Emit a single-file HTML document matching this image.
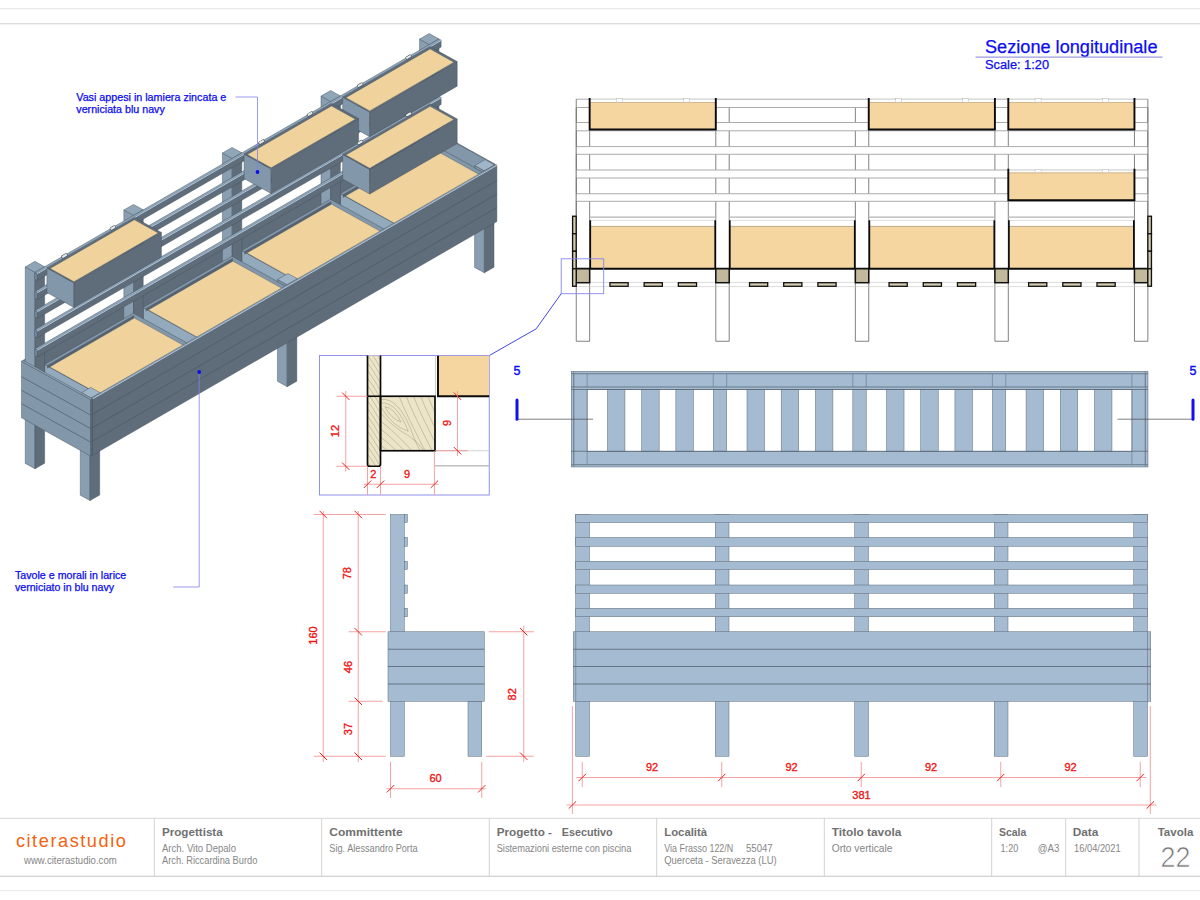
<!DOCTYPE html>
<html><head><meta charset="utf-8"><title>Orto verticale</title>
<style>
html,body{margin:0;padding:0;background:#fff;}
body{width:1200px;height:900px;overflow:hidden;}
svg{display:block;font-family:"Liberation Sans",sans-serif;}
</style></head><body>
<svg width="1200" height="900" viewBox="0 0 1200 900">
<rect x="0" y="0" width="1200" height="900" fill="#fff"/>
<line x1="0.00" y1="8.75" x2="1200.00" y2="8.75" stroke="#dcdcdc" stroke-width="0.8" />
<line x1="0.00" y1="23.75" x2="1200.00" y2="23.75" stroke="#c8c8c8" stroke-width="0.9" />
<g id="iso">
<polygon points="25.26,417.96 23.10,416.76 23.10,360.27 25.26,361.47" fill="#8297a9" stroke="#46525e" stroke-width="0.45" stroke-linejoin="round"/>
<polygon points="25.26,417.96 429.75,184.29 429.75,127.80 25.26,361.47" fill="#5f6d7b" stroke="#46525e" stroke-width="0.45" stroke-linejoin="round"/>
<polygon points="25.26,361.47 429.75,127.80 427.59,126.60 23.10,360.27" fill="#8fa5b8" stroke="#46525e" stroke-width="0.45" stroke-linejoin="round"/>
<polygon points="494.20,220.69 429.22,184.60 429.22,128.11 494.20,164.21" fill="#8297a9" stroke="#46525e" stroke-width="0.45" stroke-linejoin="round"/>
<polygon points="494.20,220.69 494.73,220.38 494.73,163.90 494.20,164.21" fill="#5f6d7b" stroke="#46525e" stroke-width="0.45" stroke-linejoin="round"/>
<polygon points="494.20,164.21 494.73,163.90 429.75,127.80 429.22,128.11" fill="#8fa5b8" stroke="#46525e" stroke-width="0.45" stroke-linejoin="round"/>
<polygon points="429.32,241.02 419.57,235.60 419.57,39.12 429.32,44.54" fill="#899eb0" stroke="#46525e" stroke-width="0.45" stroke-linejoin="round"/>
<polygon points="429.32,241.02 438.96,235.45 438.96,38.97 429.32,44.54" fill="#5f6d7b" stroke="#46525e" stroke-width="0.45" stroke-linejoin="round"/>
<polygon points="429.32,44.54 438.96,38.97 429.22,33.55 419.57,39.12" fill="#8fa5b8" stroke="#46525e" stroke-width="0.45" stroke-linejoin="round"/>
<polygon points="484.35,272.80 474.60,267.39 474.60,167.92 484.35,173.33" fill="#899eb0" stroke="#46525e" stroke-width="0.45" stroke-linejoin="round"/>
<polygon points="484.35,272.80 493.99,267.23 493.99,167.76 484.35,173.33" fill="#5f6d7b" stroke="#46525e" stroke-width="0.45" stroke-linejoin="round"/>
<polygon points="484.35,173.33 493.99,167.76 484.24,162.35 474.60,167.92" fill="#8fa5b8" stroke="#46525e" stroke-width="0.45" stroke-linejoin="round"/>
<polygon points="396.49,264.61 340.39,233.45 340.39,193.54 396.49,224.70" fill="#93a9bc" stroke="#46525e" stroke-width="0.45" stroke-linejoin="round"/>
<polygon points="396.49,264.61 485.21,213.36 485.21,173.45 396.49,224.70" fill="#5f6d7b" stroke="#46525e" stroke-width="0.45" stroke-linejoin="round"/>
<polygon points="396.49,224.70 485.21,173.45 429.11,142.29 340.39,193.54" fill="#8196a8" stroke="#46525e" stroke-width="0.45" stroke-linejoin="round"/>
<polygon points="342.87,197.63 430.09,147.24 430.09,144.17 342.87,194.56" fill="#55626f" stroke="none"/>
<polygon points="483.49,176.90 430.09,147.24 430.09,144.17 483.49,173.83" fill="#8297a9" stroke="none"/>
<polygon points="396.24,224.24 480.78,175.40 430.09,147.24 345.55,196.08" fill="#f0d29c" stroke="#46525e" stroke-width="0.35"/>
<polygon points="484.35,173.33 474.82,168.04 474.82,165.56 484.35,170.85" fill="#8297a9" stroke="#46525e" stroke-width="0.45" stroke-linejoin="round"/>
<polygon points="484.35,173.33 494.63,167.39 494.63,164.91 484.35,170.85" fill="#5f6d7b" stroke="#46525e" stroke-width="0.45" stroke-linejoin="round"/>
<polygon points="484.35,170.85 494.63,164.91 485.10,159.62 474.82,165.56" fill="#a0b5c8" stroke="#46525e" stroke-width="0.45" stroke-linejoin="round"/>
<polygon points="330.74,297.97 321.00,292.55 321.00,96.07 330.74,101.49" fill="#899eb0" stroke="#46525e" stroke-width="0.45" stroke-linejoin="round"/>
<polygon points="330.74,297.97 340.39,292.40 340.39,95.92 330.74,101.49" fill="#5f6d7b" stroke="#46525e" stroke-width="0.45" stroke-linejoin="round"/>
<polygon points="330.74,101.49 340.39,95.92 330.64,90.50 321.00,96.07" fill="#8fa5b8" stroke="#46525e" stroke-width="0.45" stroke-linejoin="round"/>
<polygon points="297.91,321.56 241.81,290.40 241.81,250.49 297.91,281.65" fill="#93a9bc" stroke="#46525e" stroke-width="0.45" stroke-linejoin="round"/>
<polygon points="297.91,321.56 386.63,270.31 386.63,230.40 297.91,281.65" fill="#5f6d7b" stroke="#46525e" stroke-width="0.45" stroke-linejoin="round"/>
<polygon points="297.91,281.65 386.63,230.40 330.53,199.24 241.81,250.49" fill="#8196a8" stroke="#46525e" stroke-width="0.45" stroke-linejoin="round"/>
<polygon points="244.30,254.58 331.52,204.19 331.52,201.12 244.30,251.51" fill="#55626f" stroke="none"/>
<polygon points="384.91,233.85 331.52,204.19 331.52,201.12 384.91,230.78" fill="#8297a9" stroke="none"/>
<polygon points="297.66,281.18 382.20,232.35 331.52,204.19 246.97,253.03" fill="#f0d29c" stroke="#46525e" stroke-width="0.35"/>
<polygon points="232.16,354.91 222.42,349.50 222.42,153.02 232.16,158.43" fill="#899eb0" stroke="#46525e" stroke-width="0.45" stroke-linejoin="round"/>
<polygon points="232.16,354.91 241.81,349.34 241.81,152.86 232.16,158.43" fill="#5f6d7b" stroke="#46525e" stroke-width="0.45" stroke-linejoin="round"/>
<polygon points="232.16,158.43 241.81,152.86 232.06,147.45 222.42,153.02" fill="#8fa5b8" stroke="#46525e" stroke-width="0.45" stroke-linejoin="round"/>
<polygon points="287.19,386.70 277.45,381.28 277.45,281.81 287.19,287.23" fill="#899eb0" stroke="#46525e" stroke-width="0.45" stroke-linejoin="round"/>
<polygon points="287.19,386.70 296.84,381.13 296.84,281.66 287.19,287.23" fill="#5f6d7b" stroke="#46525e" stroke-width="0.45" stroke-linejoin="round"/>
<polygon points="287.19,287.23 296.84,281.66 287.09,276.24 277.45,281.81" fill="#8fa5b8" stroke="#46525e" stroke-width="0.45" stroke-linejoin="round"/>
<polygon points="199.33,378.51 143.23,347.35 143.23,307.44 199.33,338.60" fill="#93a9bc" stroke="#46525e" stroke-width="0.45" stroke-linejoin="round"/>
<polygon points="199.33,378.51 288.05,327.26 288.05,287.35 199.33,338.60" fill="#5f6d7b" stroke="#46525e" stroke-width="0.45" stroke-linejoin="round"/>
<polygon points="199.33,338.60 288.05,287.35 231.95,256.18 143.23,307.44" fill="#8196a8" stroke="#46525e" stroke-width="0.45" stroke-linejoin="round"/>
<polygon points="145.72,311.53 232.94,261.14 232.94,258.07 145.72,308.46" fill="#55626f" stroke="none"/>
<polygon points="286.33,290.80 232.94,261.14 232.94,258.07 286.33,287.73" fill="#8297a9" stroke="none"/>
<polygon points="199.08,338.13 283.62,289.29 232.94,261.14 148.40,309.98" fill="#f0d29c" stroke="#46525e" stroke-width="0.35"/>
<polygon points="287.19,287.23 277.66,281.93 277.66,279.45 287.19,284.75" fill="#8297a9" stroke="#46525e" stroke-width="0.45" stroke-linejoin="round"/>
<polygon points="287.19,287.23 297.48,281.29 297.48,278.81 287.19,284.75" fill="#5f6d7b" stroke="#46525e" stroke-width="0.45" stroke-linejoin="round"/>
<polygon points="287.19,284.75 297.48,278.81 287.95,273.51 277.66,279.45" fill="#a0b5c8" stroke="#46525e" stroke-width="0.45" stroke-linejoin="round"/>
<polygon points="133.59,411.86 123.84,406.45 123.84,209.97 133.59,215.38" fill="#899eb0" stroke="#46525e" stroke-width="0.45" stroke-linejoin="round"/>
<polygon points="133.59,411.86 143.23,406.29 143.23,209.81 133.59,215.38" fill="#5f6d7b" stroke="#46525e" stroke-width="0.45" stroke-linejoin="round"/>
<polygon points="133.59,215.38 143.23,209.81 133.48,204.40 123.84,209.97" fill="#8fa5b8" stroke="#46525e" stroke-width="0.45" stroke-linejoin="round"/>
<polygon points="100.75,435.46 44.65,404.30 44.65,364.39 100.75,395.55" fill="#93a9bc" stroke="#46525e" stroke-width="0.45" stroke-linejoin="round"/>
<polygon points="100.75,435.46 189.47,384.21 189.47,344.30 100.75,395.55" fill="#5f6d7b" stroke="#46525e" stroke-width="0.45" stroke-linejoin="round"/>
<polygon points="100.75,395.55 189.47,344.30 133.37,313.13 44.65,364.39" fill="#8196a8" stroke="#46525e" stroke-width="0.45" stroke-linejoin="round"/>
<polygon points="47.14,368.47 134.36,318.09 134.36,315.02 47.14,365.40" fill="#55626f" stroke="none"/>
<polygon points="187.75,347.75 134.36,318.09 134.36,315.02 187.75,344.68" fill="#8297a9" stroke="none"/>
<polygon points="100.50,395.08 185.04,346.24 134.36,318.09 49.82,366.93" fill="#f0d29c" stroke="#46525e" stroke-width="0.35"/>
<polygon points="35.01,468.81 25.26,463.40 25.26,266.92 35.01,272.33" fill="#899eb0" stroke="#46525e" stroke-width="0.45" stroke-linejoin="round"/>
<polygon points="35.01,468.81 44.65,463.24 44.65,266.76 35.01,272.33" fill="#5f6d7b" stroke="#46525e" stroke-width="0.45" stroke-linejoin="round"/>
<polygon points="35.01,272.33 44.65,266.76 34.90,261.35 25.26,266.92" fill="#8fa5b8" stroke="#46525e" stroke-width="0.45" stroke-linejoin="round"/>
<polygon points="37.17,356.92 35.01,355.71 35.01,348.84 37.17,350.04" fill="#8297a9" stroke="#46525e" stroke-width="0.45" stroke-linejoin="round"/>
<polygon points="37.17,356.92 441.13,123.55 441.13,116.68 37.17,350.04" fill="#5f6d7b" stroke="#46525e" stroke-width="0.45" stroke-linejoin="round"/>
<polygon points="37.17,350.04 441.13,116.68 438.96,115.47 35.01,348.84" fill="#8fa5b8" stroke="#46525e" stroke-width="0.45" stroke-linejoin="round"/>
<line x1="37.17" y1="350.34" x2="441.13" y2="116.98" stroke="#b9d0e6" stroke-width="0.95"/>
<polygon points="37.17,337.76 35.01,336.56 35.01,329.68 37.17,330.88" fill="#8297a9" stroke="#46525e" stroke-width="0.45" stroke-linejoin="round"/>
<polygon points="37.17,337.76 441.13,104.40 441.13,97.52 37.17,330.88" fill="#5f6d7b" stroke="#46525e" stroke-width="0.45" stroke-linejoin="round"/>
<polygon points="37.17,330.88 441.13,97.52 438.96,96.32 35.01,329.68" fill="#8fa5b8" stroke="#46525e" stroke-width="0.45" stroke-linejoin="round"/>
<line x1="37.17" y1="331.18" x2="441.13" y2="97.82" stroke="#b9d0e6" stroke-width="0.95"/>
<polygon points="369.73,194.00 342.66,178.96 342.66,154.40 369.73,169.44" fill="#8297a9" stroke="#46525e" stroke-width="0.45" stroke-linejoin="round"/>
<polygon points="369.73,194.00 457.17,143.49 457.17,118.93 369.73,169.44" fill="#5f6d7b" stroke="#46525e" stroke-width="0.45" stroke-linejoin="round"/>
<polygon points="369.73,169.44 457.17,118.93 430.09,103.89 342.66,154.40" fill="#5f6d7b" stroke="#46525e" stroke-width="0.45" stroke-linejoin="round"/>
<polygon points="369.72,168.22 453.94,119.57 430.12,106.34 345.90,154.99" fill="#f0d29c" stroke="#46525e" stroke-width="0.35"/>
<polygon points="37.17,318.48 35.01,317.28 35.01,310.40 37.17,311.60" fill="#8297a9" stroke="#46525e" stroke-width="0.45" stroke-linejoin="round"/>
<polygon points="37.17,318.48 441.13,85.12 441.13,78.24 37.17,311.60" fill="#5f6d7b" stroke="#46525e" stroke-width="0.45" stroke-linejoin="round"/>
<polygon points="37.17,311.60 441.13,78.24 438.96,77.04 35.01,310.40" fill="#8fa5b8" stroke="#46525e" stroke-width="0.45" stroke-linejoin="round"/>
<line x1="37.17" y1="311.90" x2="441.13" y2="78.54" stroke="#b9d0e6" stroke-width="0.95"/>
<polygon points="37.17,299.44 35.01,298.24 35.01,291.36 37.17,292.57" fill="#8297a9" stroke="#46525e" stroke-width="0.45" stroke-linejoin="round"/>
<polygon points="37.17,299.44 441.13,66.08 441.13,59.20 37.17,292.57" fill="#5f6d7b" stroke="#46525e" stroke-width="0.45" stroke-linejoin="round"/>
<polygon points="37.17,292.57 441.13,59.20 438.96,58.00 35.01,291.36" fill="#8fa5b8" stroke="#46525e" stroke-width="0.45" stroke-linejoin="round"/>
<line x1="37.17" y1="292.87" x2="441.13" y2="59.50" stroke="#b9d0e6" stroke-width="0.95"/>
<polygon points="37.17,280.41 35.01,279.21 35.01,272.33 37.17,273.53" fill="#8297a9" stroke="#46525e" stroke-width="0.45" stroke-linejoin="round"/>
<polygon points="37.17,280.41 441.13,47.05 441.13,40.17 37.17,273.53" fill="#5f6d7b" stroke="#46525e" stroke-width="0.45" stroke-linejoin="round"/>
<polygon points="37.17,273.53 441.13,40.17 438.96,38.97 35.01,272.33" fill="#8fa5b8" stroke="#46525e" stroke-width="0.45" stroke-linejoin="round"/>
<line x1="37.17" y1="273.83" x2="441.13" y2="40.47" stroke="#b9d0e6" stroke-width="0.95"/>
<polygon points="369.73,136.66 342.66,121.62 342.66,97.06 369.73,112.10" fill="#8297a9" stroke="#46525e" stroke-width="0.45" stroke-linejoin="round"/>
<polygon points="369.73,136.66 457.17,86.15 457.17,61.59 369.73,112.10" fill="#5f6d7b" stroke="#46525e" stroke-width="0.45" stroke-linejoin="round"/>
<polygon points="369.73,112.10 457.17,61.59 430.09,46.55 342.66,97.06" fill="#5f6d7b" stroke="#46525e" stroke-width="0.45" stroke-linejoin="round"/>
<polygon points="369.72,110.88 453.94,62.22 430.12,48.99 345.90,97.64" fill="#f0d29c" stroke="#46525e" stroke-width="0.35"/>
<polygon points="271.16,193.61 244.08,178.56 244.08,154.00 271.16,169.05" fill="#8297a9" stroke="#46525e" stroke-width="0.45" stroke-linejoin="round"/>
<polygon points="271.16,193.61 358.59,143.09 358.59,118.53 271.16,169.05" fill="#5f6d7b" stroke="#46525e" stroke-width="0.45" stroke-linejoin="round"/>
<polygon points="271.16,169.05 358.59,118.53 331.52,103.49 244.08,154.00" fill="#5f6d7b" stroke="#46525e" stroke-width="0.45" stroke-linejoin="round"/>
<polygon points="271.14,167.82 355.36,119.17 331.54,105.94 247.32,154.59" fill="#f0d29c" stroke="#46525e" stroke-width="0.35"/>
<polygon points="90.04,500.59 80.29,495.18 80.29,395.71 90.04,401.12" fill="#899eb0" stroke="#46525e" stroke-width="0.45" stroke-linejoin="round"/>
<polygon points="90.04,500.59 99.68,495.02 99.68,395.55 90.04,401.12" fill="#5f6d7b" stroke="#46525e" stroke-width="0.45" stroke-linejoin="round"/>
<polygon points="90.04,401.12 99.68,395.55 89.93,390.14 80.29,395.71" fill="#8fa5b8" stroke="#46525e" stroke-width="0.45" stroke-linejoin="round"/>
<polygon points="74.00,307.50 46.92,292.46 46.92,267.90 74.00,282.94" fill="#8297a9" stroke="#46525e" stroke-width="0.45" stroke-linejoin="round"/>
<polygon points="74.00,307.50 161.43,256.99 161.43,232.43 74.00,282.94" fill="#5f6d7b" stroke="#46525e" stroke-width="0.45" stroke-linejoin="round"/>
<polygon points="74.00,282.94 161.43,232.43 134.36,217.39 46.92,267.90" fill="#5f6d7b" stroke="#46525e" stroke-width="0.45" stroke-linejoin="round"/>
<polygon points="73.99,281.72 158.21,233.07 134.38,219.83 50.16,268.49" fill="#f0d29c" stroke="#46525e" stroke-width="0.35"/>
<polygon points="91.11,400.51 81.58,395.21 81.58,392.73 91.11,398.03" fill="#8297a9" stroke="#46525e" stroke-width="0.45" stroke-linejoin="round"/>
<polygon points="91.11,400.51 100.32,395.18 100.32,392.70 91.11,398.03" fill="#5f6d7b" stroke="#46525e" stroke-width="0.45" stroke-linejoin="round"/>
<polygon points="91.11,398.03 100.32,392.70 90.79,387.41 81.58,392.73" fill="#a0b5c8" stroke="#46525e" stroke-width="0.45" stroke-linejoin="round"/>
<polygon points="92.41,455.26 91.11,454.54 91.11,398.05 92.41,398.77" fill="#8297a9" stroke="#46525e" stroke-width="0.45" stroke-linejoin="round"/>
<polygon points="92.41,455.26 496.90,221.59 496.90,165.10 92.41,398.77" fill="#5f6d7b" stroke="#46525e" stroke-width="0.45" stroke-linejoin="round"/>
<polygon points="92.41,398.77 496.90,165.10 495.60,164.38 91.11,398.05" fill="#8fa5b8" stroke="#46525e" stroke-width="0.45" stroke-linejoin="round"/>
<line x1="92.41" y1="441.26" x2="496.90" y2="207.59" stroke="#46525e" stroke-width="0.6"/>
<line x1="92.41" y1="427.75" x2="496.90" y2="194.08" stroke="#46525e" stroke-width="0.6"/>
<line x1="92.41" y1="414.24" x2="496.90" y2="180.57" stroke="#46525e" stroke-width="0.6"/>
<line x1="92.41" y1="399.07" x2="496.90" y2="165.40" stroke="#b9d0e6" stroke-width="0.95"/>
<polygon points="90.80,456.19 21.49,417.69 21.49,361.20 90.80,399.70" fill="#8297a9" stroke="#46525e" stroke-width="0.45" stroke-linejoin="round"/>
<polygon points="90.80,456.19 92.41,455.26 92.41,398.77 90.80,399.70" fill="#5f6d7b" stroke="#46525e" stroke-width="0.45" stroke-linejoin="round"/>
<polygon points="90.80,399.70 92.41,398.77 23.10,360.27 21.49,361.20" fill="#8fa5b8" stroke="#46525e" stroke-width="0.45" stroke-linejoin="round"/>
<line x1="90.80" y1="442.19" x2="21.49" y2="403.69" stroke="#46525e" stroke-width="0.6"/>
<line x1="90.80" y1="428.68" x2="21.49" y2="390.18" stroke="#46525e" stroke-width="0.6"/>
<line x1="90.80" y1="415.17" x2="21.49" y2="376.67" stroke="#46525e" stroke-width="0.6"/>
<line x1="62.91" y1="256.70" x2="65.91" y2="254.97" stroke="#3f4a55" stroke-width="3.3" stroke-linecap="round"/>
<line x1="62.91" y1="256.70" x2="65.91" y2="254.97" stroke="#e6e8e8" stroke-width="2.2" stroke-linecap="round"/>
<line x1="111.38" y1="228.70" x2="114.38" y2="226.97" stroke="#3f4a55" stroke-width="3.3" stroke-linecap="round"/>
<line x1="111.38" y1="228.70" x2="114.38" y2="226.97" stroke="#e6e8e8" stroke-width="2.2" stroke-linecap="round"/>
<line x1="260.07" y1="142.81" x2="263.07" y2="141.07" stroke="#3f4a55" stroke-width="3.3" stroke-linecap="round"/>
<line x1="260.07" y1="142.81" x2="263.07" y2="141.07" stroke="#e6e8e8" stroke-width="2.2" stroke-linecap="round"/>
<line x1="308.54" y1="114.81" x2="311.54" y2="113.07" stroke="#3f4a55" stroke-width="3.3" stroke-linecap="round"/>
<line x1="308.54" y1="114.81" x2="311.54" y2="113.07" stroke="#e6e8e8" stroke-width="2.2" stroke-linecap="round"/>
<line x1="358.64" y1="85.86" x2="361.65" y2="84.12" stroke="#3f4a55" stroke-width="3.3" stroke-linecap="round"/>
<line x1="358.64" y1="85.86" x2="361.65" y2="84.12" stroke="#e6e8e8" stroke-width="2.2" stroke-linecap="round"/>
<line x1="407.11" y1="57.86" x2="410.11" y2="56.12" stroke="#3f4a55" stroke-width="3.3" stroke-linecap="round"/>
<line x1="407.11" y1="57.86" x2="410.11" y2="56.12" stroke="#e6e8e8" stroke-width="2.2" stroke-linecap="round"/>
<line x1="358.64" y1="143.21" x2="361.65" y2="141.47" stroke="#3f4a55" stroke-width="3.3" stroke-linecap="round"/>
<line x1="358.64" y1="143.21" x2="361.65" y2="141.47" stroke="#e6e8e8" stroke-width="2.2" stroke-linecap="round"/>
<line x1="407.11" y1="115.21" x2="410.11" y2="113.47" stroke="#3f4a55" stroke-width="3.3" stroke-linecap="round"/>
<line x1="407.11" y1="115.21" x2="410.11" y2="113.47" stroke="#e6e8e8" stroke-width="2.2" stroke-linecap="round"/>
</g>
<polyline points="235.5,97 257.5,97 257.5,172" fill="none" stroke="#8080ea" stroke-width="0.8"/>
<circle cx="257.5" cy="172" r="1.9" fill="#0c0cf2"/>
<text x="76.30" y="100.60" font-size="10" fill="#0c0cf2" text-anchor="start" font-weight="normal" textLength="150.00" lengthAdjust="spacingAndGlyphs"  stroke="#0c0cf2" stroke-width="0.25">Vasi appesi in lamiera zincata e</text>
<text x="76.30" y="113.00" font-size="10" fill="#0c0cf2" text-anchor="start" font-weight="normal" textLength="88.50" lengthAdjust="spacingAndGlyphs"  stroke="#0c0cf2" stroke-width="0.25">verniciata blu navy</text>
<polyline points="199.2,372 199.2,587 173.3,587" fill="none" stroke="#8080ea" stroke-width="0.8"/>
<circle cx="199.2" cy="372" r="1.9" fill="#0c0cf2"/>
<text x="15.00" y="578.70" font-size="10" fill="#0c0cf2" text-anchor="start" font-weight="normal" textLength="111.30" lengthAdjust="spacingAndGlyphs"  stroke="#0c0cf2" stroke-width="0.25">Tavole e morali in larice</text>
<text x="15.00" y="590.80" font-size="10" fill="#0c0cf2" text-anchor="start" font-weight="normal" textLength="99.00" lengthAdjust="spacingAndGlyphs"  stroke="#0c0cf2" stroke-width="0.25">verniciato in blu navy</text>
<text x="985.00" y="52.50" font-size="18" fill="#0c0cf2" text-anchor="start" font-weight="normal" textLength="172.50" lengthAdjust="spacingAndGlyphs"  stroke="#0c0cf2" stroke-width="0.25">Sezione longitudinale</text>
<line x1="975.50" y1="57.20" x2="1162.50" y2="57.20" stroke="#9c9ce2" stroke-width="1.3" />
<text x="985.00" y="68.70" font-size="12.3" fill="#0c0cf2" text-anchor="start" font-weight="normal" textLength="64.00" lengthAdjust="spacingAndGlyphs"  stroke="#0c0cf2" stroke-width="0.25">Scale: 1:20</text>
<g id="section">
<line x1="576.25" y1="107.50" x2="576.25" y2="341.25" stroke="#6c6c6c" stroke-width="0.85" />
<line x1="589.65" y1="107.50" x2="589.65" y2="341.25" stroke="#6c6c6c" stroke-width="0.85" />
<line x1="576.25" y1="341.25" x2="589.65" y2="341.25" stroke="#6c6c6c" stroke-width="0.85" />
<line x1="715.80" y1="107.50" x2="715.80" y2="341.25" stroke="#6c6c6c" stroke-width="0.85" />
<line x1="729.20" y1="107.50" x2="729.20" y2="341.25" stroke="#6c6c6c" stroke-width="0.85" />
<line x1="715.80" y1="341.25" x2="729.20" y2="341.25" stroke="#6c6c6c" stroke-width="0.85" />
<line x1="855.35" y1="107.50" x2="855.35" y2="341.25" stroke="#6c6c6c" stroke-width="0.85" />
<line x1="868.75" y1="107.50" x2="868.75" y2="341.25" stroke="#6c6c6c" stroke-width="0.85" />
<line x1="855.35" y1="341.25" x2="868.75" y2="341.25" stroke="#6c6c6c" stroke-width="0.85" />
<line x1="994.90" y1="107.50" x2="994.90" y2="341.25" stroke="#6c6c6c" stroke-width="0.85" />
<line x1="1008.30" y1="107.50" x2="1008.30" y2="341.25" stroke="#6c6c6c" stroke-width="0.85" />
<line x1="994.90" y1="341.25" x2="1008.30" y2="341.25" stroke="#6c6c6c" stroke-width="0.85" />
<line x1="1134.45" y1="107.50" x2="1134.45" y2="341.25" stroke="#6c6c6c" stroke-width="0.85" />
<line x1="1147.85" y1="107.50" x2="1147.85" y2="341.25" stroke="#6c6c6c" stroke-width="0.85" />
<line x1="1134.45" y1="341.25" x2="1147.85" y2="341.25" stroke="#6c6c6c" stroke-width="0.85" />
<rect x="575.75" y="99.20" width="572.60" height="8.30" fill="#fff"/>
<line x1="576.25" y1="99.20" x2="1147.85" y2="99.20" stroke="#a2a2a2" stroke-width="0.9" />
<line x1="576.25" y1="107.50" x2="1147.85" y2="107.50" stroke="#a2a2a2" stroke-width="0.9" />
<rect x="575.75" y="122.50" width="572.60" height="8.30" fill="#fff"/>
<line x1="576.25" y1="122.50" x2="1147.85" y2="122.50" stroke="#a2a2a2" stroke-width="0.9" />
<line x1="576.25" y1="130.80" x2="1147.85" y2="130.80" stroke="#a2a2a2" stroke-width="0.9" />
<rect x="575.75" y="146.60" width="572.60" height="7.70" fill="#fff"/>
<line x1="576.25" y1="146.60" x2="1147.85" y2="146.60" stroke="#a2a2a2" stroke-width="0.9" />
<line x1="576.25" y1="154.30" x2="1147.85" y2="154.30" stroke="#a2a2a2" stroke-width="0.9" />
<rect x="575.75" y="170.00" width="572.60" height="8.00" fill="#fff"/>
<line x1="576.25" y1="170.00" x2="1147.85" y2="170.00" stroke="#a2a2a2" stroke-width="0.9" />
<line x1="576.25" y1="178.00" x2="1147.85" y2="178.00" stroke="#a2a2a2" stroke-width="0.9" />
<rect x="575.75" y="193.75" width="572.60" height="7.55" fill="#fff"/>
<line x1="576.25" y1="193.75" x2="1147.85" y2="193.75" stroke="#a2a2a2" stroke-width="0.9" />
<line x1="576.25" y1="201.30" x2="1147.85" y2="201.30" stroke="#a2a2a2" stroke-width="0.9" />
<line x1="576.25" y1="99.20" x2="576.25" y2="216.00" stroke="#6c6c6c" stroke-width="0.85" />
<line x1="1147.85" y1="99.20" x2="1147.85" y2="216.00" stroke="#6c6c6c" stroke-width="0.85" />
<line x1="589.65" y1="217.10" x2="715.80" y2="217.10" stroke="#b4b4b4" stroke-width="1.2" />
<line x1="729.20" y1="217.10" x2="855.35" y2="217.10" stroke="#b4b4b4" stroke-width="1.2" />
<line x1="868.75" y1="217.10" x2="994.90" y2="217.10" stroke="#b4b4b4" stroke-width="1.2" />
<line x1="1008.30" y1="217.10" x2="1134.45" y2="217.10" stroke="#b4b4b4" stroke-width="1.2" />
<line x1="576.25" y1="282.40" x2="1147.85" y2="282.40" stroke="#c4c4c4" stroke-width="0.6" />
<line x1="576.25" y1="286.60" x2="1147.85" y2="286.60" stroke="#c4c4c4" stroke-width="0.6" />
<rect x="589.65" y="98.75" width="126.15" height="30.75" fill="#fff"/>
<rect x="589.65" y="102.30" width="126.15" height="27.20" fill="#f5d5a0"/>
<line x1="589.65" y1="99.40" x2="715.80" y2="99.40" stroke="#b8bcb8" stroke-width="0.6" />
<line x1="589.65" y1="102.50" x2="715.80" y2="102.50" stroke="#b59a70" stroke-width="0.6" />
<rect x="616.39" y="98.55" width="6.00" height="3.75" fill="#fff" stroke="#aaa" stroke-width="0.4" />
<rect x="683.63" y="98.55" width="6.00" height="3.75" fill="#fff" stroke="#aaa" stroke-width="0.4" />
<polyline points="589.65,97.95 589.65,129.50 715.80,129.50 715.80,97.95" fill="none" stroke="#0a0a0a" stroke-width="1.9"/>
<rect x="868.75" y="98.75" width="126.15" height="30.75" fill="#fff"/>
<rect x="868.75" y="102.30" width="126.15" height="27.20" fill="#f5d5a0"/>
<line x1="868.75" y1="99.40" x2="994.90" y2="99.40" stroke="#b8bcb8" stroke-width="0.6" />
<line x1="868.75" y1="102.50" x2="994.90" y2="102.50" stroke="#b59a70" stroke-width="0.6" />
<rect x="895.49" y="98.55" width="6.00" height="3.75" fill="#fff" stroke="#aaa" stroke-width="0.4" />
<rect x="962.73" y="98.55" width="6.00" height="3.75" fill="#fff" stroke="#aaa" stroke-width="0.4" />
<polyline points="868.75,97.95 868.75,129.50 994.90,129.50 994.90,97.95" fill="none" stroke="#0a0a0a" stroke-width="1.9"/>
<rect x="1008.30" y="98.75" width="126.15" height="30.75" fill="#fff"/>
<rect x="1008.30" y="102.30" width="126.15" height="27.20" fill="#f5d5a0"/>
<line x1="1008.30" y1="99.40" x2="1134.45" y2="99.40" stroke="#b8bcb8" stroke-width="0.6" />
<line x1="1008.30" y1="102.50" x2="1134.45" y2="102.50" stroke="#b59a70" stroke-width="0.6" />
<rect x="1035.04" y="98.55" width="6.00" height="3.75" fill="#fff" stroke="#aaa" stroke-width="0.4" />
<rect x="1102.28" y="98.55" width="6.00" height="3.75" fill="#fff" stroke="#aaa" stroke-width="0.4" />
<polyline points="1008.30,97.95 1008.30,129.50 1134.45,129.50 1134.45,97.95" fill="none" stroke="#0a0a0a" stroke-width="1.9"/>
<rect x="1008.30" y="169.50" width="126.15" height="30.70" fill="#fff"/>
<rect x="1008.30" y="172.60" width="126.15" height="27.60" fill="#f5d5a0"/>
<line x1="1008.30" y1="170.20" x2="1134.45" y2="170.20" stroke="#b8bcb8" stroke-width="0.6" />
<line x1="1008.30" y1="172.80" x2="1134.45" y2="172.80" stroke="#b59a70" stroke-width="0.6" />
<rect x="1035.04" y="169.30" width="6.00" height="3.30" fill="#fff" stroke="#aaa" stroke-width="0.4" />
<rect x="1102.28" y="169.30" width="6.00" height="3.30" fill="#fff" stroke="#aaa" stroke-width="0.4" />
<polyline points="1008.30,168.70 1008.30,200.20 1134.45,200.20 1134.45,168.70" fill="none" stroke="#0a0a0a" stroke-width="1.9"/>
<rect x="590.25" y="220.00" width="124.95" height="48.00" fill="#fff"/>
<rect x="590.25" y="226.25" width="124.95" height="42.50" fill="#f5d5a0"/>
<line x1="590.25" y1="220.40" x2="715.20" y2="220.40" stroke="#c8c8c8" stroke-width="0.6" />
<line x1="590.25" y1="226.40" x2="715.20" y2="226.40" stroke="#a89880" stroke-width="0.7" />
<line x1="590.25" y1="220.30" x2="590.25" y2="268.75" stroke="#0a0a0a" stroke-width="1.7" />
<line x1="715.20" y1="220.30" x2="715.20" y2="268.75" stroke="#0a0a0a" stroke-width="1.7" />
<rect x="729.80" y="220.00" width="124.95" height="48.00" fill="#fff"/>
<rect x="729.80" y="226.25" width="124.95" height="42.50" fill="#f5d5a0"/>
<line x1="729.80" y1="220.40" x2="854.75" y2="220.40" stroke="#c8c8c8" stroke-width="0.6" />
<line x1="729.80" y1="226.40" x2="854.75" y2="226.40" stroke="#a89880" stroke-width="0.7" />
<line x1="729.80" y1="220.30" x2="729.80" y2="268.75" stroke="#0a0a0a" stroke-width="1.7" />
<line x1="854.75" y1="220.30" x2="854.75" y2="268.75" stroke="#0a0a0a" stroke-width="1.7" />
<rect x="869.35" y="220.00" width="124.95" height="48.00" fill="#fff"/>
<rect x="869.35" y="226.25" width="124.95" height="42.50" fill="#f5d5a0"/>
<line x1="869.35" y1="220.40" x2="994.30" y2="220.40" stroke="#c8c8c8" stroke-width="0.6" />
<line x1="869.35" y1="226.40" x2="994.30" y2="226.40" stroke="#a89880" stroke-width="0.7" />
<line x1="869.35" y1="220.30" x2="869.35" y2="268.75" stroke="#0a0a0a" stroke-width="1.7" />
<line x1="994.30" y1="220.30" x2="994.30" y2="268.75" stroke="#0a0a0a" stroke-width="1.7" />
<rect x="1008.90" y="220.00" width="124.95" height="48.00" fill="#fff"/>
<rect x="1008.90" y="226.25" width="124.95" height="42.50" fill="#f5d5a0"/>
<line x1="1008.90" y1="220.40" x2="1133.85" y2="220.40" stroke="#c8c8c8" stroke-width="0.6" />
<line x1="1008.90" y1="226.40" x2="1133.85" y2="226.40" stroke="#a89880" stroke-width="0.7" />
<line x1="1008.90" y1="220.30" x2="1008.90" y2="268.75" stroke="#0a0a0a" stroke-width="1.7" />
<line x1="1133.85" y1="220.30" x2="1133.85" y2="268.75" stroke="#0a0a0a" stroke-width="1.7" />
<line x1="576.25" y1="268.75" x2="1147.85" y2="268.75" stroke="#0a0a0a" stroke-width="1.8" />
<rect x="576.25" y="268.75" width="13.40" height="13.95" fill="#d9cfb0"/>
<clipPath id="c5762_2687"><rect x="576.25" y="268.75" width="13.40" height="13.95"/></clipPath>
<g clip-path="url(#c5762_2687)" stroke="#7d765f" stroke-width="0.3">
<line x1="562.30" y1="268.75" x2="572.06" y2="282.70"/>
<line x1="563.50" y1="268.75" x2="573.26" y2="282.70"/>
<line x1="564.70" y1="268.75" x2="574.47" y2="282.70"/>
<line x1="565.90" y1="268.75" x2="575.67" y2="282.70"/>
<line x1="567.10" y1="268.75" x2="576.87" y2="282.70"/>
<line x1="568.30" y1="268.75" x2="578.07" y2="282.70"/>
<line x1="569.50" y1="268.75" x2="579.27" y2="282.70"/>
<line x1="570.70" y1="268.75" x2="580.47" y2="282.70"/>
<line x1="571.90" y1="268.75" x2="581.67" y2="282.70"/>
<line x1="573.10" y1="268.75" x2="582.87" y2="282.70"/>
<line x1="574.30" y1="268.75" x2="584.07" y2="282.70"/>
<line x1="575.50" y1="268.75" x2="585.27" y2="282.70"/>
<line x1="576.70" y1="268.75" x2="586.47" y2="282.70"/>
<line x1="577.90" y1="268.75" x2="587.67" y2="282.70"/>
<line x1="579.10" y1="268.75" x2="588.87" y2="282.70"/>
<line x1="580.30" y1="268.75" x2="590.07" y2="282.70"/>
<line x1="581.50" y1="268.75" x2="591.27" y2="282.70"/>
<line x1="582.70" y1="268.75" x2="592.47" y2="282.70"/>
<line x1="583.90" y1="268.75" x2="593.67" y2="282.70"/>
<line x1="585.10" y1="268.75" x2="594.87" y2="282.70"/>
<line x1="586.30" y1="268.75" x2="596.07" y2="282.70"/>
<line x1="587.50" y1="268.75" x2="597.27" y2="282.70"/>
<line x1="588.70" y1="268.75" x2="598.47" y2="282.70"/>
</g>
<rect x="576.25" y="268.75" width="13.40" height="13.95" fill="none" stroke="#111" stroke-width="1.5"/>
<rect x="715.80" y="268.75" width="13.40" height="13.95" fill="#d9cfb0"/>
<clipPath id="c7158_2687"><rect x="715.80" y="268.75" width="13.40" height="13.95"/></clipPath>
<g clip-path="url(#c7158_2687)" stroke="#7d765f" stroke-width="0.3">
<line x1="701.85" y1="268.75" x2="711.61" y2="282.70"/>
<line x1="703.05" y1="268.75" x2="712.81" y2="282.70"/>
<line x1="704.25" y1="268.75" x2="714.01" y2="282.70"/>
<line x1="705.45" y1="268.75" x2="715.22" y2="282.70"/>
<line x1="706.65" y1="268.75" x2="716.42" y2="282.70"/>
<line x1="707.85" y1="268.75" x2="717.62" y2="282.70"/>
<line x1="709.05" y1="268.75" x2="718.82" y2="282.70"/>
<line x1="710.25" y1="268.75" x2="720.02" y2="282.70"/>
<line x1="711.45" y1="268.75" x2="721.22" y2="282.70"/>
<line x1="712.65" y1="268.75" x2="722.42" y2="282.70"/>
<line x1="713.85" y1="268.75" x2="723.62" y2="282.70"/>
<line x1="715.05" y1="268.75" x2="724.82" y2="282.70"/>
<line x1="716.25" y1="268.75" x2="726.02" y2="282.70"/>
<line x1="717.45" y1="268.75" x2="727.22" y2="282.70"/>
<line x1="718.65" y1="268.75" x2="728.42" y2="282.70"/>
<line x1="719.85" y1="268.75" x2="729.62" y2="282.70"/>
<line x1="721.05" y1="268.75" x2="730.82" y2="282.70"/>
<line x1="722.25" y1="268.75" x2="732.02" y2="282.70"/>
<line x1="723.45" y1="268.75" x2="733.22" y2="282.70"/>
<line x1="724.65" y1="268.75" x2="734.42" y2="282.70"/>
<line x1="725.85" y1="268.75" x2="735.62" y2="282.70"/>
<line x1="727.05" y1="268.75" x2="736.82" y2="282.70"/>
<line x1="728.25" y1="268.75" x2="738.02" y2="282.70"/>
</g>
<rect x="715.80" y="268.75" width="13.40" height="13.95" fill="none" stroke="#111" stroke-width="1.5"/>
<rect x="855.35" y="268.75" width="13.40" height="13.95" fill="#d9cfb0"/>
<clipPath id="c8553_2687"><rect x="855.35" y="268.75" width="13.40" height="13.95"/></clipPath>
<g clip-path="url(#c8553_2687)" stroke="#7d765f" stroke-width="0.3">
<line x1="841.40" y1="268.75" x2="851.17" y2="282.70"/>
<line x1="842.60" y1="268.75" x2="852.37" y2="282.70"/>
<line x1="843.80" y1="268.75" x2="853.57" y2="282.70"/>
<line x1="845.00" y1="268.75" x2="854.77" y2="282.70"/>
<line x1="846.20" y1="268.75" x2="855.97" y2="282.70"/>
<line x1="847.40" y1="268.75" x2="857.17" y2="282.70"/>
<line x1="848.60" y1="268.75" x2="858.37" y2="282.70"/>
<line x1="849.80" y1="268.75" x2="859.57" y2="282.70"/>
<line x1="851.00" y1="268.75" x2="860.77" y2="282.70"/>
<line x1="852.20" y1="268.75" x2="861.97" y2="282.70"/>
<line x1="853.40" y1="268.75" x2="863.17" y2="282.70"/>
<line x1="854.60" y1="268.75" x2="864.37" y2="282.70"/>
<line x1="855.80" y1="268.75" x2="865.57" y2="282.70"/>
<line x1="857.00" y1="268.75" x2="866.77" y2="282.70"/>
<line x1="858.20" y1="268.75" x2="867.97" y2="282.70"/>
<line x1="859.40" y1="268.75" x2="869.17" y2="282.70"/>
<line x1="860.60" y1="268.75" x2="870.37" y2="282.70"/>
<line x1="861.80" y1="268.75" x2="871.57" y2="282.70"/>
<line x1="863.00" y1="268.75" x2="872.77" y2="282.70"/>
<line x1="864.20" y1="268.75" x2="873.97" y2="282.70"/>
<line x1="865.40" y1="268.75" x2="875.17" y2="282.70"/>
<line x1="866.60" y1="268.75" x2="876.37" y2="282.70"/>
<line x1="867.80" y1="268.75" x2="877.57" y2="282.70"/>
</g>
<rect x="855.35" y="268.75" width="13.40" height="13.95" fill="none" stroke="#111" stroke-width="1.5"/>
<rect x="994.90" y="268.75" width="13.40" height="13.95" fill="#d9cfb0"/>
<clipPath id="c9949_2687"><rect x="994.90" y="268.75" width="13.40" height="13.95"/></clipPath>
<g clip-path="url(#c9949_2687)" stroke="#7d765f" stroke-width="0.3">
<line x1="980.95" y1="268.75" x2="990.72" y2="282.70"/>
<line x1="982.15" y1="268.75" x2="991.92" y2="282.70"/>
<line x1="983.35" y1="268.75" x2="993.12" y2="282.70"/>
<line x1="984.55" y1="268.75" x2="994.32" y2="282.70"/>
<line x1="985.75" y1="268.75" x2="995.52" y2="282.70"/>
<line x1="986.95" y1="268.75" x2="996.72" y2="282.70"/>
<line x1="988.15" y1="268.75" x2="997.92" y2="282.70"/>
<line x1="989.35" y1="268.75" x2="999.12" y2="282.70"/>
<line x1="990.55" y1="268.75" x2="1000.32" y2="282.70"/>
<line x1="991.75" y1="268.75" x2="1001.52" y2="282.70"/>
<line x1="992.95" y1="268.75" x2="1002.72" y2="282.70"/>
<line x1="994.15" y1="268.75" x2="1003.92" y2="282.70"/>
<line x1="995.35" y1="268.75" x2="1005.12" y2="282.70"/>
<line x1="996.55" y1="268.75" x2="1006.32" y2="282.70"/>
<line x1="997.75" y1="268.75" x2="1007.52" y2="282.70"/>
<line x1="998.95" y1="268.75" x2="1008.72" y2="282.70"/>
<line x1="1000.15" y1="268.75" x2="1009.92" y2="282.70"/>
<line x1="1001.35" y1="268.75" x2="1011.12" y2="282.70"/>
<line x1="1002.55" y1="268.75" x2="1012.32" y2="282.70"/>
<line x1="1003.75" y1="268.75" x2="1013.52" y2="282.70"/>
<line x1="1004.95" y1="268.75" x2="1014.72" y2="282.70"/>
<line x1="1006.15" y1="268.75" x2="1015.92" y2="282.70"/>
<line x1="1007.35" y1="268.75" x2="1017.12" y2="282.70"/>
</g>
<rect x="994.90" y="268.75" width="13.40" height="13.95" fill="none" stroke="#111" stroke-width="1.5"/>
<rect x="1134.45" y="268.75" width="13.40" height="13.95" fill="#d9cfb0"/>
<clipPath id="c11344_2687"><rect x="1134.45" y="268.75" width="13.40" height="13.95"/></clipPath>
<g clip-path="url(#c11344_2687)" stroke="#7d765f" stroke-width="0.3">
<line x1="1120.50" y1="268.75" x2="1130.27" y2="282.70"/>
<line x1="1121.70" y1="268.75" x2="1131.47" y2="282.70"/>
<line x1="1122.90" y1="268.75" x2="1132.67" y2="282.70"/>
<line x1="1124.10" y1="268.75" x2="1133.87" y2="282.70"/>
<line x1="1125.30" y1="268.75" x2="1135.07" y2="282.70"/>
<line x1="1126.50" y1="268.75" x2="1136.27" y2="282.70"/>
<line x1="1127.70" y1="268.75" x2="1137.47" y2="282.70"/>
<line x1="1128.90" y1="268.75" x2="1138.67" y2="282.70"/>
<line x1="1130.10" y1="268.75" x2="1139.87" y2="282.70"/>
<line x1="1131.30" y1="268.75" x2="1141.07" y2="282.70"/>
<line x1="1132.50" y1="268.75" x2="1142.27" y2="282.70"/>
<line x1="1133.70" y1="268.75" x2="1143.47" y2="282.70"/>
<line x1="1134.90" y1="268.75" x2="1144.67" y2="282.70"/>
<line x1="1136.10" y1="268.75" x2="1145.87" y2="282.70"/>
<line x1="1137.30" y1="268.75" x2="1147.07" y2="282.70"/>
<line x1="1138.50" y1="268.75" x2="1148.27" y2="282.70"/>
<line x1="1139.70" y1="268.75" x2="1149.47" y2="282.70"/>
<line x1="1140.90" y1="268.75" x2="1150.67" y2="282.70"/>
<line x1="1142.10" y1="268.75" x2="1151.87" y2="282.70"/>
<line x1="1143.30" y1="268.75" x2="1153.07" y2="282.70"/>
<line x1="1144.50" y1="268.75" x2="1154.27" y2="282.70"/>
<line x1="1145.70" y1="268.75" x2="1155.47" y2="282.70"/>
<line x1="1146.90" y1="268.75" x2="1156.67" y2="282.70"/>
</g>
<rect x="1134.45" y="268.75" width="13.40" height="13.95" fill="none" stroke="#111" stroke-width="1.5"/>
<rect x="609.95" y="282.70" width="18.20" height="3.60" fill="#ede5c8"/>
<clipPath id="c6099_2827"><rect x="609.95" y="282.70" width="18.20" height="3.60"/></clipPath>
<g clip-path="url(#c6099_2827)" stroke="#7d765f" stroke-width="0.3">
<line x1="606.35" y1="282.70" x2="608.87" y2="286.30"/>
<line x1="607.65" y1="282.70" x2="610.17" y2="286.30"/>
<line x1="608.95" y1="282.70" x2="611.47" y2="286.30"/>
<line x1="610.25" y1="282.70" x2="612.77" y2="286.30"/>
<line x1="611.55" y1="282.70" x2="614.07" y2="286.30"/>
<line x1="612.85" y1="282.70" x2="615.37" y2="286.30"/>
<line x1="614.15" y1="282.70" x2="616.67" y2="286.30"/>
<line x1="615.45" y1="282.70" x2="617.97" y2="286.30"/>
<line x1="616.75" y1="282.70" x2="619.27" y2="286.30"/>
<line x1="618.05" y1="282.70" x2="620.57" y2="286.30"/>
<line x1="619.35" y1="282.70" x2="621.87" y2="286.30"/>
<line x1="620.65" y1="282.70" x2="623.17" y2="286.30"/>
<line x1="621.95" y1="282.70" x2="624.47" y2="286.30"/>
<line x1="623.25" y1="282.70" x2="625.77" y2="286.30"/>
<line x1="624.55" y1="282.70" x2="627.07" y2="286.30"/>
<line x1="625.85" y1="282.70" x2="628.37" y2="286.30"/>
<line x1="627.15" y1="282.70" x2="629.67" y2="286.30"/>
</g>
<rect x="609.95" y="282.70" width="18.20" height="3.60" fill="none" stroke="#111" stroke-width="1.3"/>
<rect x="644.15" y="282.70" width="18.20" height="3.60" fill="#ede5c8"/>
<clipPath id="c6441_2827"><rect x="644.15" y="282.70" width="18.20" height="3.60"/></clipPath>
<g clip-path="url(#c6441_2827)" stroke="#7d765f" stroke-width="0.3">
<line x1="640.55" y1="282.70" x2="643.07" y2="286.30"/>
<line x1="641.85" y1="282.70" x2="644.37" y2="286.30"/>
<line x1="643.15" y1="282.70" x2="645.67" y2="286.30"/>
<line x1="644.45" y1="282.70" x2="646.97" y2="286.30"/>
<line x1="645.75" y1="282.70" x2="648.27" y2="286.30"/>
<line x1="647.05" y1="282.70" x2="649.57" y2="286.30"/>
<line x1="648.35" y1="282.70" x2="650.87" y2="286.30"/>
<line x1="649.65" y1="282.70" x2="652.17" y2="286.30"/>
<line x1="650.95" y1="282.70" x2="653.47" y2="286.30"/>
<line x1="652.25" y1="282.70" x2="654.77" y2="286.30"/>
<line x1="653.55" y1="282.70" x2="656.07" y2="286.30"/>
<line x1="654.85" y1="282.70" x2="657.37" y2="286.30"/>
<line x1="656.15" y1="282.70" x2="658.67" y2="286.30"/>
<line x1="657.45" y1="282.70" x2="659.97" y2="286.30"/>
<line x1="658.75" y1="282.70" x2="661.27" y2="286.30"/>
<line x1="660.05" y1="282.70" x2="662.57" y2="286.30"/>
<line x1="661.35" y1="282.70" x2="663.87" y2="286.30"/>
</g>
<rect x="644.15" y="282.70" width="18.20" height="3.60" fill="none" stroke="#111" stroke-width="1.3"/>
<rect x="678.35" y="282.70" width="18.20" height="3.60" fill="#ede5c8"/>
<clipPath id="c6783_2827"><rect x="678.35" y="282.70" width="18.20" height="3.60"/></clipPath>
<g clip-path="url(#c6783_2827)" stroke="#7d765f" stroke-width="0.3">
<line x1="674.75" y1="282.70" x2="677.27" y2="286.30"/>
<line x1="676.05" y1="282.70" x2="678.57" y2="286.30"/>
<line x1="677.35" y1="282.70" x2="679.87" y2="286.30"/>
<line x1="678.65" y1="282.70" x2="681.17" y2="286.30"/>
<line x1="679.95" y1="282.70" x2="682.47" y2="286.30"/>
<line x1="681.25" y1="282.70" x2="683.77" y2="286.30"/>
<line x1="682.55" y1="282.70" x2="685.07" y2="286.30"/>
<line x1="683.85" y1="282.70" x2="686.37" y2="286.30"/>
<line x1="685.15" y1="282.70" x2="687.67" y2="286.30"/>
<line x1="686.45" y1="282.70" x2="688.97" y2="286.30"/>
<line x1="687.75" y1="282.70" x2="690.27" y2="286.30"/>
<line x1="689.05" y1="282.70" x2="691.57" y2="286.30"/>
<line x1="690.35" y1="282.70" x2="692.87" y2="286.30"/>
<line x1="691.65" y1="282.70" x2="694.17" y2="286.30"/>
<line x1="692.95" y1="282.70" x2="695.47" y2="286.30"/>
<line x1="694.25" y1="282.70" x2="696.77" y2="286.30"/>
<line x1="695.55" y1="282.70" x2="698.07" y2="286.30"/>
</g>
<rect x="678.35" y="282.70" width="18.20" height="3.60" fill="none" stroke="#111" stroke-width="1.3"/>
<rect x="749.50" y="282.70" width="18.20" height="3.60" fill="#ede5c8"/>
<clipPath id="c7494_2827"><rect x="749.50" y="282.70" width="18.20" height="3.60"/></clipPath>
<g clip-path="url(#c7494_2827)" stroke="#7d765f" stroke-width="0.3">
<line x1="745.90" y1="282.70" x2="748.42" y2="286.30"/>
<line x1="747.20" y1="282.70" x2="749.72" y2="286.30"/>
<line x1="748.50" y1="282.70" x2="751.02" y2="286.30"/>
<line x1="749.80" y1="282.70" x2="752.32" y2="286.30"/>
<line x1="751.10" y1="282.70" x2="753.62" y2="286.30"/>
<line x1="752.40" y1="282.70" x2="754.92" y2="286.30"/>
<line x1="753.70" y1="282.70" x2="756.22" y2="286.30"/>
<line x1="755.00" y1="282.70" x2="757.52" y2="286.30"/>
<line x1="756.30" y1="282.70" x2="758.82" y2="286.30"/>
<line x1="757.60" y1="282.70" x2="760.12" y2="286.30"/>
<line x1="758.90" y1="282.70" x2="761.42" y2="286.30"/>
<line x1="760.20" y1="282.70" x2="762.72" y2="286.30"/>
<line x1="761.50" y1="282.70" x2="764.02" y2="286.30"/>
<line x1="762.80" y1="282.70" x2="765.32" y2="286.30"/>
<line x1="764.10" y1="282.70" x2="766.62" y2="286.30"/>
<line x1="765.40" y1="282.70" x2="767.92" y2="286.30"/>
<line x1="766.70" y1="282.70" x2="769.22" y2="286.30"/>
</g>
<rect x="749.50" y="282.70" width="18.20" height="3.60" fill="none" stroke="#111" stroke-width="1.3"/>
<rect x="783.70" y="282.70" width="18.20" height="3.60" fill="#ede5c8"/>
<clipPath id="c7836_2827"><rect x="783.70" y="282.70" width="18.20" height="3.60"/></clipPath>
<g clip-path="url(#c7836_2827)" stroke="#7d765f" stroke-width="0.3">
<line x1="780.10" y1="282.70" x2="782.62" y2="286.30"/>
<line x1="781.40" y1="282.70" x2="783.92" y2="286.30"/>
<line x1="782.70" y1="282.70" x2="785.22" y2="286.30"/>
<line x1="784.00" y1="282.70" x2="786.52" y2="286.30"/>
<line x1="785.30" y1="282.70" x2="787.82" y2="286.30"/>
<line x1="786.60" y1="282.70" x2="789.12" y2="286.30"/>
<line x1="787.90" y1="282.70" x2="790.42" y2="286.30"/>
<line x1="789.20" y1="282.70" x2="791.72" y2="286.30"/>
<line x1="790.50" y1="282.70" x2="793.02" y2="286.30"/>
<line x1="791.80" y1="282.70" x2="794.32" y2="286.30"/>
<line x1="793.10" y1="282.70" x2="795.62" y2="286.30"/>
<line x1="794.40" y1="282.70" x2="796.92" y2="286.30"/>
<line x1="795.70" y1="282.70" x2="798.22" y2="286.30"/>
<line x1="797.00" y1="282.70" x2="799.52" y2="286.30"/>
<line x1="798.30" y1="282.70" x2="800.82" y2="286.30"/>
<line x1="799.60" y1="282.70" x2="802.12" y2="286.30"/>
<line x1="800.90" y1="282.70" x2="803.42" y2="286.30"/>
</g>
<rect x="783.70" y="282.70" width="18.20" height="3.60" fill="none" stroke="#111" stroke-width="1.3"/>
<rect x="817.90" y="282.70" width="18.20" height="3.60" fill="#ede5c8"/>
<clipPath id="c8179_2827"><rect x="817.90" y="282.70" width="18.20" height="3.60"/></clipPath>
<g clip-path="url(#c8179_2827)" stroke="#7d765f" stroke-width="0.3">
<line x1="814.30" y1="282.70" x2="816.82" y2="286.30"/>
<line x1="815.60" y1="282.70" x2="818.12" y2="286.30"/>
<line x1="816.90" y1="282.70" x2="819.42" y2="286.30"/>
<line x1="818.20" y1="282.70" x2="820.72" y2="286.30"/>
<line x1="819.50" y1="282.70" x2="822.02" y2="286.30"/>
<line x1="820.80" y1="282.70" x2="823.32" y2="286.30"/>
<line x1="822.10" y1="282.70" x2="824.62" y2="286.30"/>
<line x1="823.40" y1="282.70" x2="825.92" y2="286.30"/>
<line x1="824.70" y1="282.70" x2="827.22" y2="286.30"/>
<line x1="826.00" y1="282.70" x2="828.52" y2="286.30"/>
<line x1="827.30" y1="282.70" x2="829.82" y2="286.30"/>
<line x1="828.60" y1="282.70" x2="831.12" y2="286.30"/>
<line x1="829.90" y1="282.70" x2="832.42" y2="286.30"/>
<line x1="831.20" y1="282.70" x2="833.72" y2="286.30"/>
<line x1="832.50" y1="282.70" x2="835.02" y2="286.30"/>
<line x1="833.80" y1="282.70" x2="836.32" y2="286.30"/>
<line x1="835.10" y1="282.70" x2="837.62" y2="286.30"/>
</g>
<rect x="817.90" y="282.70" width="18.20" height="3.60" fill="none" stroke="#111" stroke-width="1.3"/>
<rect x="889.05" y="282.70" width="18.20" height="3.60" fill="#ede5c8"/>
<clipPath id="c8890_2827"><rect x="889.05" y="282.70" width="18.20" height="3.60"/></clipPath>
<g clip-path="url(#c8890_2827)" stroke="#7d765f" stroke-width="0.3">
<line x1="885.45" y1="282.70" x2="887.97" y2="286.30"/>
<line x1="886.75" y1="282.70" x2="889.27" y2="286.30"/>
<line x1="888.05" y1="282.70" x2="890.57" y2="286.30"/>
<line x1="889.35" y1="282.70" x2="891.87" y2="286.30"/>
<line x1="890.65" y1="282.70" x2="893.17" y2="286.30"/>
<line x1="891.95" y1="282.70" x2="894.47" y2="286.30"/>
<line x1="893.25" y1="282.70" x2="895.77" y2="286.30"/>
<line x1="894.55" y1="282.70" x2="897.07" y2="286.30"/>
<line x1="895.85" y1="282.70" x2="898.37" y2="286.30"/>
<line x1="897.15" y1="282.70" x2="899.67" y2="286.30"/>
<line x1="898.45" y1="282.70" x2="900.97" y2="286.30"/>
<line x1="899.75" y1="282.70" x2="902.27" y2="286.30"/>
<line x1="901.05" y1="282.70" x2="903.57" y2="286.30"/>
<line x1="902.35" y1="282.70" x2="904.87" y2="286.30"/>
<line x1="903.65" y1="282.70" x2="906.17" y2="286.30"/>
<line x1="904.95" y1="282.70" x2="907.47" y2="286.30"/>
<line x1="906.25" y1="282.70" x2="908.77" y2="286.30"/>
</g>
<rect x="889.05" y="282.70" width="18.20" height="3.60" fill="none" stroke="#111" stroke-width="1.3"/>
<rect x="923.25" y="282.70" width="18.20" height="3.60" fill="#ede5c8"/>
<clipPath id="c9232_2827"><rect x="923.25" y="282.70" width="18.20" height="3.60"/></clipPath>
<g clip-path="url(#c9232_2827)" stroke="#7d765f" stroke-width="0.3">
<line x1="919.65" y1="282.70" x2="922.17" y2="286.30"/>
<line x1="920.95" y1="282.70" x2="923.47" y2="286.30"/>
<line x1="922.25" y1="282.70" x2="924.77" y2="286.30"/>
<line x1="923.55" y1="282.70" x2="926.07" y2="286.30"/>
<line x1="924.85" y1="282.70" x2="927.37" y2="286.30"/>
<line x1="926.15" y1="282.70" x2="928.67" y2="286.30"/>
<line x1="927.45" y1="282.70" x2="929.97" y2="286.30"/>
<line x1="928.75" y1="282.70" x2="931.27" y2="286.30"/>
<line x1="930.05" y1="282.70" x2="932.57" y2="286.30"/>
<line x1="931.35" y1="282.70" x2="933.87" y2="286.30"/>
<line x1="932.65" y1="282.70" x2="935.17" y2="286.30"/>
<line x1="933.95" y1="282.70" x2="936.47" y2="286.30"/>
<line x1="935.25" y1="282.70" x2="937.77" y2="286.30"/>
<line x1="936.55" y1="282.70" x2="939.07" y2="286.30"/>
<line x1="937.85" y1="282.70" x2="940.37" y2="286.30"/>
<line x1="939.15" y1="282.70" x2="941.67" y2="286.30"/>
<line x1="940.45" y1="282.70" x2="942.97" y2="286.30"/>
</g>
<rect x="923.25" y="282.70" width="18.20" height="3.60" fill="none" stroke="#111" stroke-width="1.3"/>
<rect x="957.45" y="282.70" width="18.20" height="3.60" fill="#ede5c8"/>
<clipPath id="c9574_2827"><rect x="957.45" y="282.70" width="18.20" height="3.60"/></clipPath>
<g clip-path="url(#c9574_2827)" stroke="#7d765f" stroke-width="0.3">
<line x1="953.85" y1="282.70" x2="956.37" y2="286.30"/>
<line x1="955.15" y1="282.70" x2="957.67" y2="286.30"/>
<line x1="956.45" y1="282.70" x2="958.97" y2="286.30"/>
<line x1="957.75" y1="282.70" x2="960.27" y2="286.30"/>
<line x1="959.05" y1="282.70" x2="961.57" y2="286.30"/>
<line x1="960.35" y1="282.70" x2="962.87" y2="286.30"/>
<line x1="961.65" y1="282.70" x2="964.17" y2="286.30"/>
<line x1="962.95" y1="282.70" x2="965.47" y2="286.30"/>
<line x1="964.25" y1="282.70" x2="966.77" y2="286.30"/>
<line x1="965.55" y1="282.70" x2="968.07" y2="286.30"/>
<line x1="966.85" y1="282.70" x2="969.37" y2="286.30"/>
<line x1="968.15" y1="282.70" x2="970.67" y2="286.30"/>
<line x1="969.45" y1="282.70" x2="971.97" y2="286.30"/>
<line x1="970.75" y1="282.70" x2="973.27" y2="286.30"/>
<line x1="972.05" y1="282.70" x2="974.57" y2="286.30"/>
<line x1="973.35" y1="282.70" x2="975.87" y2="286.30"/>
<line x1="974.65" y1="282.70" x2="977.17" y2="286.30"/>
</g>
<rect x="957.45" y="282.70" width="18.20" height="3.60" fill="none" stroke="#111" stroke-width="1.3"/>
<rect x="1028.60" y="282.70" width="18.20" height="3.60" fill="#ede5c8"/>
<clipPath id="c10286_2827"><rect x="1028.60" y="282.70" width="18.20" height="3.60"/></clipPath>
<g clip-path="url(#c10286_2827)" stroke="#7d765f" stroke-width="0.3">
<line x1="1025.00" y1="282.70" x2="1027.52" y2="286.30"/>
<line x1="1026.30" y1="282.70" x2="1028.82" y2="286.30"/>
<line x1="1027.60" y1="282.70" x2="1030.12" y2="286.30"/>
<line x1="1028.90" y1="282.70" x2="1031.42" y2="286.30"/>
<line x1="1030.20" y1="282.70" x2="1032.72" y2="286.30"/>
<line x1="1031.50" y1="282.70" x2="1034.02" y2="286.30"/>
<line x1="1032.80" y1="282.70" x2="1035.32" y2="286.30"/>
<line x1="1034.10" y1="282.70" x2="1036.62" y2="286.30"/>
<line x1="1035.40" y1="282.70" x2="1037.92" y2="286.30"/>
<line x1="1036.70" y1="282.70" x2="1039.22" y2="286.30"/>
<line x1="1038.00" y1="282.70" x2="1040.52" y2="286.30"/>
<line x1="1039.30" y1="282.70" x2="1041.82" y2="286.30"/>
<line x1="1040.60" y1="282.70" x2="1043.12" y2="286.30"/>
<line x1="1041.90" y1="282.70" x2="1044.42" y2="286.30"/>
<line x1="1043.20" y1="282.70" x2="1045.72" y2="286.30"/>
<line x1="1044.50" y1="282.70" x2="1047.02" y2="286.30"/>
<line x1="1045.80" y1="282.70" x2="1048.32" y2="286.30"/>
</g>
<rect x="1028.60" y="282.70" width="18.20" height="3.60" fill="none" stroke="#111" stroke-width="1.3"/>
<rect x="1062.80" y="282.70" width="18.20" height="3.60" fill="#ede5c8"/>
<clipPath id="c10628_2827"><rect x="1062.80" y="282.70" width="18.20" height="3.60"/></clipPath>
<g clip-path="url(#c10628_2827)" stroke="#7d765f" stroke-width="0.3">
<line x1="1059.20" y1="282.70" x2="1061.72" y2="286.30"/>
<line x1="1060.50" y1="282.70" x2="1063.02" y2="286.30"/>
<line x1="1061.80" y1="282.70" x2="1064.32" y2="286.30"/>
<line x1="1063.10" y1="282.70" x2="1065.62" y2="286.30"/>
<line x1="1064.40" y1="282.70" x2="1066.92" y2="286.30"/>
<line x1="1065.70" y1="282.70" x2="1068.22" y2="286.30"/>
<line x1="1067.00" y1="282.70" x2="1069.52" y2="286.30"/>
<line x1="1068.30" y1="282.70" x2="1070.82" y2="286.30"/>
<line x1="1069.60" y1="282.70" x2="1072.12" y2="286.30"/>
<line x1="1070.90" y1="282.70" x2="1073.42" y2="286.30"/>
<line x1="1072.20" y1="282.70" x2="1074.72" y2="286.30"/>
<line x1="1073.50" y1="282.70" x2="1076.02" y2="286.30"/>
<line x1="1074.80" y1="282.70" x2="1077.32" y2="286.30"/>
<line x1="1076.10" y1="282.70" x2="1078.62" y2="286.30"/>
<line x1="1077.40" y1="282.70" x2="1079.92" y2="286.30"/>
<line x1="1078.70" y1="282.70" x2="1081.22" y2="286.30"/>
<line x1="1080.00" y1="282.70" x2="1082.52" y2="286.30"/>
</g>
<rect x="1062.80" y="282.70" width="18.20" height="3.60" fill="none" stroke="#111" stroke-width="1.3"/>
<rect x="1097.00" y="282.70" width="18.20" height="3.60" fill="#ede5c8"/>
<clipPath id="c10970_2827"><rect x="1097.00" y="282.70" width="18.20" height="3.60"/></clipPath>
<g clip-path="url(#c10970_2827)" stroke="#7d765f" stroke-width="0.3">
<line x1="1093.40" y1="282.70" x2="1095.92" y2="286.30"/>
<line x1="1094.70" y1="282.70" x2="1097.22" y2="286.30"/>
<line x1="1096.00" y1="282.70" x2="1098.52" y2="286.30"/>
<line x1="1097.30" y1="282.70" x2="1099.82" y2="286.30"/>
<line x1="1098.60" y1="282.70" x2="1101.12" y2="286.30"/>
<line x1="1099.90" y1="282.70" x2="1102.42" y2="286.30"/>
<line x1="1101.20" y1="282.70" x2="1103.72" y2="286.30"/>
<line x1="1102.50" y1="282.70" x2="1105.02" y2="286.30"/>
<line x1="1103.80" y1="282.70" x2="1106.32" y2="286.30"/>
<line x1="1105.10" y1="282.70" x2="1107.62" y2="286.30"/>
<line x1="1106.40" y1="282.70" x2="1108.92" y2="286.30"/>
<line x1="1107.70" y1="282.70" x2="1110.22" y2="286.30"/>
<line x1="1109.00" y1="282.70" x2="1111.52" y2="286.30"/>
<line x1="1110.30" y1="282.70" x2="1112.82" y2="286.30"/>
<line x1="1111.60" y1="282.70" x2="1114.12" y2="286.30"/>
<line x1="1112.90" y1="282.70" x2="1115.42" y2="286.30"/>
<line x1="1114.20" y1="282.70" x2="1116.72" y2="286.30"/>
</g>
<rect x="1097.00" y="282.70" width="18.20" height="3.60" fill="none" stroke="#111" stroke-width="1.3"/>
<rect x="572.60" y="216.25" width="3.60" height="17.50" fill="#ede5c8"/>
<clipPath id="c5726_2162"><rect x="572.60" y="216.25" width="3.60" height="17.50"/></clipPath>
<g clip-path="url(#c5726_2162)" stroke="#7d765f" stroke-width="0.3">
<line x1="555.10" y1="216.25" x2="567.35" y2="233.75"/>
<line x1="556.50" y1="216.25" x2="568.75" y2="233.75"/>
<line x1="557.90" y1="216.25" x2="570.15" y2="233.75"/>
<line x1="559.30" y1="216.25" x2="571.55" y2="233.75"/>
<line x1="560.70" y1="216.25" x2="572.95" y2="233.75"/>
<line x1="562.10" y1="216.25" x2="574.35" y2="233.75"/>
<line x1="563.50" y1="216.25" x2="575.75" y2="233.75"/>
<line x1="564.90" y1="216.25" x2="577.15" y2="233.75"/>
<line x1="566.30" y1="216.25" x2="578.55" y2="233.75"/>
<line x1="567.70" y1="216.25" x2="579.95" y2="233.75"/>
<line x1="569.10" y1="216.25" x2="581.35" y2="233.75"/>
<line x1="570.50" y1="216.25" x2="582.75" y2="233.75"/>
<line x1="571.90" y1="216.25" x2="584.15" y2="233.75"/>
<line x1="573.30" y1="216.25" x2="585.55" y2="233.75"/>
<line x1="574.70" y1="216.25" x2="586.95" y2="233.75"/>
<line x1="576.10" y1="216.25" x2="588.35" y2="233.75"/>
</g>
<rect x="572.60" y="216.25" width="3.60" height="17.50" fill="none" stroke="#111" stroke-width="1.35"/>
<rect x="572.60" y="233.75" width="3.60" height="17.50" fill="#ede5c8"/>
<clipPath id="c5726_2337"><rect x="572.60" y="233.75" width="3.60" height="17.50"/></clipPath>
<g clip-path="url(#c5726_2337)" stroke="#7d765f" stroke-width="0.3">
<line x1="555.10" y1="233.75" x2="567.35" y2="251.25"/>
<line x1="556.50" y1="233.75" x2="568.75" y2="251.25"/>
<line x1="557.90" y1="233.75" x2="570.15" y2="251.25"/>
<line x1="559.30" y1="233.75" x2="571.55" y2="251.25"/>
<line x1="560.70" y1="233.75" x2="572.95" y2="251.25"/>
<line x1="562.10" y1="233.75" x2="574.35" y2="251.25"/>
<line x1="563.50" y1="233.75" x2="575.75" y2="251.25"/>
<line x1="564.90" y1="233.75" x2="577.15" y2="251.25"/>
<line x1="566.30" y1="233.75" x2="578.55" y2="251.25"/>
<line x1="567.70" y1="233.75" x2="579.95" y2="251.25"/>
<line x1="569.10" y1="233.75" x2="581.35" y2="251.25"/>
<line x1="570.50" y1="233.75" x2="582.75" y2="251.25"/>
<line x1="571.90" y1="233.75" x2="584.15" y2="251.25"/>
<line x1="573.30" y1="233.75" x2="585.55" y2="251.25"/>
<line x1="574.70" y1="233.75" x2="586.95" y2="251.25"/>
<line x1="576.10" y1="233.75" x2="588.35" y2="251.25"/>
</g>
<rect x="572.60" y="233.75" width="3.60" height="17.50" fill="none" stroke="#111" stroke-width="1.35"/>
<rect x="572.60" y="251.25" width="3.60" height="17.50" fill="#ede5c8"/>
<clipPath id="c5726_2512"><rect x="572.60" y="251.25" width="3.60" height="17.50"/></clipPath>
<g clip-path="url(#c5726_2512)" stroke="#7d765f" stroke-width="0.3">
<line x1="555.10" y1="251.25" x2="567.35" y2="268.75"/>
<line x1="556.50" y1="251.25" x2="568.75" y2="268.75"/>
<line x1="557.90" y1="251.25" x2="570.15" y2="268.75"/>
<line x1="559.30" y1="251.25" x2="571.55" y2="268.75"/>
<line x1="560.70" y1="251.25" x2="572.95" y2="268.75"/>
<line x1="562.10" y1="251.25" x2="574.35" y2="268.75"/>
<line x1="563.50" y1="251.25" x2="575.75" y2="268.75"/>
<line x1="564.90" y1="251.25" x2="577.15" y2="268.75"/>
<line x1="566.30" y1="251.25" x2="578.55" y2="268.75"/>
<line x1="567.70" y1="251.25" x2="579.95" y2="268.75"/>
<line x1="569.10" y1="251.25" x2="581.35" y2="268.75"/>
<line x1="570.50" y1="251.25" x2="582.75" y2="268.75"/>
<line x1="571.90" y1="251.25" x2="584.15" y2="268.75"/>
<line x1="573.30" y1="251.25" x2="585.55" y2="268.75"/>
<line x1="574.70" y1="251.25" x2="586.95" y2="268.75"/>
<line x1="576.10" y1="251.25" x2="588.35" y2="268.75"/>
</g>
<rect x="572.60" y="251.25" width="3.60" height="17.50" fill="none" stroke="#111" stroke-width="1.35"/>
<rect x="572.60" y="268.75" width="3.60" height="17.50" fill="#ede5c8"/>
<clipPath id="c5726_2687"><rect x="572.60" y="268.75" width="3.60" height="17.50"/></clipPath>
<g clip-path="url(#c5726_2687)" stroke="#7d765f" stroke-width="0.3">
<line x1="555.10" y1="268.75" x2="567.35" y2="286.25"/>
<line x1="556.50" y1="268.75" x2="568.75" y2="286.25"/>
<line x1="557.90" y1="268.75" x2="570.15" y2="286.25"/>
<line x1="559.30" y1="268.75" x2="571.55" y2="286.25"/>
<line x1="560.70" y1="268.75" x2="572.95" y2="286.25"/>
<line x1="562.10" y1="268.75" x2="574.35" y2="286.25"/>
<line x1="563.50" y1="268.75" x2="575.75" y2="286.25"/>
<line x1="564.90" y1="268.75" x2="577.15" y2="286.25"/>
<line x1="566.30" y1="268.75" x2="578.55" y2="286.25"/>
<line x1="567.70" y1="268.75" x2="579.95" y2="286.25"/>
<line x1="569.10" y1="268.75" x2="581.35" y2="286.25"/>
<line x1="570.50" y1="268.75" x2="582.75" y2="286.25"/>
<line x1="571.90" y1="268.75" x2="584.15" y2="286.25"/>
<line x1="573.30" y1="268.75" x2="585.55" y2="286.25"/>
<line x1="574.70" y1="268.75" x2="586.95" y2="286.25"/>
<line x1="576.10" y1="268.75" x2="588.35" y2="286.25"/>
</g>
<rect x="572.60" y="268.75" width="3.60" height="17.50" fill="none" stroke="#111" stroke-width="1.35"/>
<rect x="1147.85" y="216.25" width="3.60" height="17.50" fill="#ede5c8"/>
<clipPath id="c11478_2162"><rect x="1147.85" y="216.25" width="3.60" height="17.50"/></clipPath>
<g clip-path="url(#c11478_2162)" stroke="#7d765f" stroke-width="0.3">
<line x1="1130.35" y1="216.25" x2="1142.60" y2="233.75"/>
<line x1="1131.75" y1="216.25" x2="1144.00" y2="233.75"/>
<line x1="1133.15" y1="216.25" x2="1145.40" y2="233.75"/>
<line x1="1134.55" y1="216.25" x2="1146.80" y2="233.75"/>
<line x1="1135.95" y1="216.25" x2="1148.20" y2="233.75"/>
<line x1="1137.35" y1="216.25" x2="1149.60" y2="233.75"/>
<line x1="1138.75" y1="216.25" x2="1151.00" y2="233.75"/>
<line x1="1140.15" y1="216.25" x2="1152.40" y2="233.75"/>
<line x1="1141.55" y1="216.25" x2="1153.80" y2="233.75"/>
<line x1="1142.95" y1="216.25" x2="1155.20" y2="233.75"/>
<line x1="1144.35" y1="216.25" x2="1156.60" y2="233.75"/>
<line x1="1145.75" y1="216.25" x2="1158.00" y2="233.75"/>
<line x1="1147.15" y1="216.25" x2="1159.40" y2="233.75"/>
<line x1="1148.55" y1="216.25" x2="1160.80" y2="233.75"/>
<line x1="1149.95" y1="216.25" x2="1162.20" y2="233.75"/>
<line x1="1151.35" y1="216.25" x2="1163.60" y2="233.75"/>
</g>
<rect x="1147.85" y="216.25" width="3.60" height="17.50" fill="none" stroke="#111" stroke-width="1.35"/>
<rect x="1147.85" y="233.75" width="3.60" height="17.50" fill="#ede5c8"/>
<clipPath id="c11478_2337"><rect x="1147.85" y="233.75" width="3.60" height="17.50"/></clipPath>
<g clip-path="url(#c11478_2337)" stroke="#7d765f" stroke-width="0.3">
<line x1="1130.35" y1="233.75" x2="1142.60" y2="251.25"/>
<line x1="1131.75" y1="233.75" x2="1144.00" y2="251.25"/>
<line x1="1133.15" y1="233.75" x2="1145.40" y2="251.25"/>
<line x1="1134.55" y1="233.75" x2="1146.80" y2="251.25"/>
<line x1="1135.95" y1="233.75" x2="1148.20" y2="251.25"/>
<line x1="1137.35" y1="233.75" x2="1149.60" y2="251.25"/>
<line x1="1138.75" y1="233.75" x2="1151.00" y2="251.25"/>
<line x1="1140.15" y1="233.75" x2="1152.40" y2="251.25"/>
<line x1="1141.55" y1="233.75" x2="1153.80" y2="251.25"/>
<line x1="1142.95" y1="233.75" x2="1155.20" y2="251.25"/>
<line x1="1144.35" y1="233.75" x2="1156.60" y2="251.25"/>
<line x1="1145.75" y1="233.75" x2="1158.00" y2="251.25"/>
<line x1="1147.15" y1="233.75" x2="1159.40" y2="251.25"/>
<line x1="1148.55" y1="233.75" x2="1160.80" y2="251.25"/>
<line x1="1149.95" y1="233.75" x2="1162.20" y2="251.25"/>
<line x1="1151.35" y1="233.75" x2="1163.60" y2="251.25"/>
</g>
<rect x="1147.85" y="233.75" width="3.60" height="17.50" fill="none" stroke="#111" stroke-width="1.35"/>
<rect x="1147.85" y="251.25" width="3.60" height="17.50" fill="#ede5c8"/>
<clipPath id="c11478_2512"><rect x="1147.85" y="251.25" width="3.60" height="17.50"/></clipPath>
<g clip-path="url(#c11478_2512)" stroke="#7d765f" stroke-width="0.3">
<line x1="1130.35" y1="251.25" x2="1142.60" y2="268.75"/>
<line x1="1131.75" y1="251.25" x2="1144.00" y2="268.75"/>
<line x1="1133.15" y1="251.25" x2="1145.40" y2="268.75"/>
<line x1="1134.55" y1="251.25" x2="1146.80" y2="268.75"/>
<line x1="1135.95" y1="251.25" x2="1148.20" y2="268.75"/>
<line x1="1137.35" y1="251.25" x2="1149.60" y2="268.75"/>
<line x1="1138.75" y1="251.25" x2="1151.00" y2="268.75"/>
<line x1="1140.15" y1="251.25" x2="1152.40" y2="268.75"/>
<line x1="1141.55" y1="251.25" x2="1153.80" y2="268.75"/>
<line x1="1142.95" y1="251.25" x2="1155.20" y2="268.75"/>
<line x1="1144.35" y1="251.25" x2="1156.60" y2="268.75"/>
<line x1="1145.75" y1="251.25" x2="1158.00" y2="268.75"/>
<line x1="1147.15" y1="251.25" x2="1159.40" y2="268.75"/>
<line x1="1148.55" y1="251.25" x2="1160.80" y2="268.75"/>
<line x1="1149.95" y1="251.25" x2="1162.20" y2="268.75"/>
<line x1="1151.35" y1="251.25" x2="1163.60" y2="268.75"/>
</g>
<rect x="1147.85" y="251.25" width="3.60" height="17.50" fill="none" stroke="#111" stroke-width="1.35"/>
<rect x="1147.85" y="268.75" width="3.60" height="17.50" fill="#ede5c8"/>
<clipPath id="c11478_2687"><rect x="1147.85" y="268.75" width="3.60" height="17.50"/></clipPath>
<g clip-path="url(#c11478_2687)" stroke="#7d765f" stroke-width="0.3">
<line x1="1130.35" y1="268.75" x2="1142.60" y2="286.25"/>
<line x1="1131.75" y1="268.75" x2="1144.00" y2="286.25"/>
<line x1="1133.15" y1="268.75" x2="1145.40" y2="286.25"/>
<line x1="1134.55" y1="268.75" x2="1146.80" y2="286.25"/>
<line x1="1135.95" y1="268.75" x2="1148.20" y2="286.25"/>
<line x1="1137.35" y1="268.75" x2="1149.60" y2="286.25"/>
<line x1="1138.75" y1="268.75" x2="1151.00" y2="286.25"/>
<line x1="1140.15" y1="268.75" x2="1152.40" y2="286.25"/>
<line x1="1141.55" y1="268.75" x2="1153.80" y2="286.25"/>
<line x1="1142.95" y1="268.75" x2="1155.20" y2="286.25"/>
<line x1="1144.35" y1="268.75" x2="1156.60" y2="286.25"/>
<line x1="1145.75" y1="268.75" x2="1158.00" y2="286.25"/>
<line x1="1147.15" y1="268.75" x2="1159.40" y2="286.25"/>
<line x1="1148.55" y1="268.75" x2="1160.80" y2="286.25"/>
<line x1="1149.95" y1="268.75" x2="1162.20" y2="286.25"/>
<line x1="1151.35" y1="268.75" x2="1163.60" y2="286.25"/>
</g>
<rect x="1147.85" y="268.75" width="3.60" height="17.50" fill="none" stroke="#111" stroke-width="1.35"/>
</g>
<rect x="561.2" y="258.8" width="42.5" height="34.9" fill="none" stroke="#8585ea" stroke-width="0.9"/>
<polyline points="561.2,293.7 536.2,328.8 489.3,355.5" fill="none" stroke="#4646e2" stroke-width="1.0"/>
<g id="plan">
<rect x="571.25" y="371.25" width="576.75" height="95.75" fill="#a4bbd1" stroke="#5b6977" stroke-width="0.5" />
<rect x="587.15" y="389.5" width="544.76" height="61.75" fill="#fff" stroke="#5b6977" stroke-width="0.5"/>
<rect x="713.29" y="389.50" width="13.40" height="61.75" fill="#a4bbd1" stroke="#5b6977" stroke-width="0.5" />
<rect x="852.83" y="389.50" width="13.40" height="61.75" fill="#a4bbd1" stroke="#5b6977" stroke-width="0.5" />
<rect x="992.37" y="389.50" width="13.40" height="61.75" fill="#a4bbd1" stroke="#5b6977" stroke-width="0.5" />
<rect x="607.45" y="389.50" width="17.50" height="61.75" fill="#a4bbd1" stroke="#5b6977" stroke-width="0.5" />
<rect x="641.65" y="389.50" width="17.50" height="61.75" fill="#a4bbd1" stroke="#5b6977" stroke-width="0.5" />
<rect x="675.85" y="389.50" width="17.50" height="61.75" fill="#a4bbd1" stroke="#5b6977" stroke-width="0.5" />
<rect x="746.99" y="389.50" width="17.50" height="61.75" fill="#a4bbd1" stroke="#5b6977" stroke-width="0.5" />
<rect x="781.19" y="389.50" width="17.50" height="61.75" fill="#a4bbd1" stroke="#5b6977" stroke-width="0.5" />
<rect x="815.39" y="389.50" width="17.50" height="61.75" fill="#a4bbd1" stroke="#5b6977" stroke-width="0.5" />
<rect x="886.53" y="389.50" width="17.50" height="61.75" fill="#a4bbd1" stroke="#5b6977" stroke-width="0.5" />
<rect x="920.73" y="389.50" width="17.50" height="61.75" fill="#a4bbd1" stroke="#5b6977" stroke-width="0.5" />
<rect x="954.93" y="389.50" width="17.50" height="61.75" fill="#a4bbd1" stroke="#5b6977" stroke-width="0.5" />
<rect x="1026.07" y="389.50" width="17.50" height="61.75" fill="#a4bbd1" stroke="#5b6977" stroke-width="0.5" />
<rect x="1060.27" y="389.50" width="17.50" height="61.75" fill="#a4bbd1" stroke="#5b6977" stroke-width="0.5" />
<rect x="1094.47" y="389.50" width="17.50" height="61.75" fill="#a4bbd1" stroke="#5b6977" stroke-width="0.5" />
<line x1="571.25" y1="373.75" x2="1148.00" y2="373.75" stroke="#50606e" stroke-width="0.7" />
<line x1="571.25" y1="387.00" x2="1148.00" y2="387.00" stroke="#50606e" stroke-width="0.7" />
<line x1="571.25" y1="389.50" x2="1148.00" y2="389.50" stroke="#50606e" stroke-width="0.7" />
<line x1="571.25" y1="451.25" x2="1148.00" y2="451.25" stroke="#50606e" stroke-width="0.7" />
<line x1="571.25" y1="464.75" x2="1148.00" y2="464.75" stroke="#50606e" stroke-width="0.7" />
<line x1="573.75" y1="371.25" x2="573.75" y2="467.00" stroke="#5b6977" stroke-width="0.5" />
<line x1="1145.30" y1="371.25" x2="1145.30" y2="467.00" stroke="#5b6977" stroke-width="0.5" />
<line x1="573.75" y1="373.75" x2="573.75" y2="387.00" stroke="#5b6977" stroke-width="0.5" />
<line x1="587.15" y1="373.75" x2="587.15" y2="387.00" stroke="#5b6977" stroke-width="0.5" />
<line x1="713.29" y1="373.75" x2="713.29" y2="387.00" stroke="#5b6977" stroke-width="0.5" />
<line x1="726.69" y1="373.75" x2="726.69" y2="387.00" stroke="#5b6977" stroke-width="0.5" />
<line x1="852.83" y1="373.75" x2="852.83" y2="387.00" stroke="#5b6977" stroke-width="0.5" />
<line x1="866.23" y1="373.75" x2="866.23" y2="387.00" stroke="#5b6977" stroke-width="0.5" />
<line x1="992.37" y1="373.75" x2="992.37" y2="387.00" stroke="#5b6977" stroke-width="0.5" />
<line x1="1005.77" y1="373.75" x2="1005.77" y2="387.00" stroke="#5b6977" stroke-width="0.5" />
<line x1="1131.91" y1="373.75" x2="1131.91" y2="387.00" stroke="#5b6977" stroke-width="0.5" />
<line x1="1145.31" y1="373.75" x2="1145.31" y2="387.00" stroke="#5b6977" stroke-width="0.5" />
<line x1="573.75" y1="451.25" x2="573.75" y2="464.75" stroke="#5b6977" stroke-width="0.5" />
<line x1="587.15" y1="451.25" x2="587.15" y2="464.75" stroke="#5b6977" stroke-width="0.5" />
<line x1="573.75" y1="389.50" x2="573.75" y2="451.25" stroke="#5b6977" stroke-width="0.5" />
<line x1="587.15" y1="389.50" x2="587.15" y2="451.25" stroke="#5b6977" stroke-width="0.5" />
<line x1="1131.91" y1="451.25" x2="1131.91" y2="464.75" stroke="#5b6977" stroke-width="0.5" />
<line x1="1145.31" y1="451.25" x2="1145.31" y2="464.75" stroke="#5b6977" stroke-width="0.5" />
<line x1="1131.91" y1="389.50" x2="1131.91" y2="451.25" stroke="#5b6977" stroke-width="0.5" />
<line x1="1145.31" y1="389.50" x2="1145.31" y2="451.25" stroke="#5b6977" stroke-width="0.5" />
</g>
<line x1="517.00" y1="419.20" x2="593.00" y2="419.20" stroke="#4a4a4a" stroke-width="0.7" />
<line x1="517.00" y1="400.00" x2="517.00" y2="419.30" stroke="#1010f0" stroke-width="3.0" stroke-linecap="round"/>
<line x1="1117.50" y1="419.20" x2="1193.00" y2="419.20" stroke="#4a4a4a" stroke-width="0.7" />
<line x1="1193.00" y1="400.00" x2="1193.00" y2="419.30" stroke="#1010f0" stroke-width="3.0" stroke-linecap="round"/>
<text x="517.00" y="374.60" font-size="12.5" fill="#0c0cf2" text-anchor="middle" font-weight="normal" stroke="#0c0cf2" stroke-width="0.4">5</text>
<text x="1193.00" y="374.60" font-size="12.5" fill="#0c0cf2" text-anchor="middle" font-weight="normal" stroke="#0c0cf2" stroke-width="0.4">5</text>
<g id="elev">
<rect x="575.75" y="514.50" width="13.75" height="241.75" fill="#a4bbd1" stroke="#5b6977" stroke-width="0.5" />
<rect x="715.25" y="514.50" width="13.75" height="241.75" fill="#a4bbd1" stroke="#5b6977" stroke-width="0.5" />
<rect x="854.75" y="514.50" width="13.75" height="241.75" fill="#a4bbd1" stroke="#5b6977" stroke-width="0.5" />
<rect x="994.25" y="514.50" width="13.75" height="241.75" fill="#a4bbd1" stroke="#5b6977" stroke-width="0.5" />
<rect x="1133.75" y="514.50" width="13.75" height="241.75" fill="#a4bbd1" stroke="#5b6977" stroke-width="0.5" />
<rect x="575.75" y="514.50" width="571.75" height="8.00" fill="#a4bbd1" stroke="#5b6977" stroke-width="0.5" />
<rect x="575.75" y="537.50" width="571.75" height="8.75" fill="#a4bbd1" stroke="#5b6977" stroke-width="0.5" />
<rect x="575.75" y="561.25" width="571.75" height="8.25" fill="#a4bbd1" stroke="#5b6977" stroke-width="0.5" />
<rect x="575.75" y="585.00" width="571.75" height="8.25" fill="#a4bbd1" stroke="#5b6977" stroke-width="0.5" />
<rect x="575.75" y="608.25" width="571.75" height="8.50" fill="#a4bbd1" stroke="#5b6977" stroke-width="0.5" />
<rect x="573.25" y="631.75" width="577.50" height="69.50" fill="#a4bbd1" stroke="#5b6977" stroke-width="0.5" />
<line x1="573.25" y1="649.25" x2="1150.75" y2="649.25" stroke="#4c5a68" stroke-width="0.7" />
<line x1="573.25" y1="666.50" x2="1150.75" y2="666.50" stroke="#4c5a68" stroke-width="0.7" />
<line x1="573.25" y1="684.00" x2="1150.75" y2="684.00" stroke="#4c5a68" stroke-width="0.7" />
<line x1="575.75" y1="631.75" x2="575.75" y2="701.25" stroke="#5b6977" stroke-width="0.5" />
<line x1="1147.50" y1="631.75" x2="1147.50" y2="701.25" stroke="#5b6977" stroke-width="0.5" />
</g>
<line x1="576.25" y1="777.50" x2="1146.65" y2="777.50" stroke="#f28c8c" stroke-width="0.8" />
<line x1="582.25" y1="761.80" x2="582.25" y2="787.00" stroke="#f28c8c" stroke-width="0.8" />
<line x1="578.55" y1="781.20" x2="585.95" y2="773.80" stroke="#e42222" stroke-width="1.0" />
<text x="652.00" y="770.80" font-size="11" fill="#ee1616" text-anchor="middle" font-weight="normal"  stroke="#ee1616" stroke-width="0.35">92</text>
<line x1="721.75" y1="761.80" x2="721.75" y2="787.00" stroke="#f28c8c" stroke-width="0.8" />
<line x1="718.05" y1="781.20" x2="725.45" y2="773.80" stroke="#e42222" stroke-width="1.0" />
<text x="791.50" y="770.80" font-size="11" fill="#ee1616" text-anchor="middle" font-weight="normal"  stroke="#ee1616" stroke-width="0.35">92</text>
<line x1="861.25" y1="761.80" x2="861.25" y2="787.00" stroke="#f28c8c" stroke-width="0.8" />
<line x1="857.55" y1="781.20" x2="864.95" y2="773.80" stroke="#e42222" stroke-width="1.0" />
<text x="931.00" y="770.80" font-size="11" fill="#ee1616" text-anchor="middle" font-weight="normal"  stroke="#ee1616" stroke-width="0.35">92</text>
<line x1="1000.75" y1="761.80" x2="1000.75" y2="787.00" stroke="#f28c8c" stroke-width="0.8" />
<line x1="997.05" y1="781.20" x2="1004.45" y2="773.80" stroke="#e42222" stroke-width="1.0" />
<text x="1070.50" y="770.80" font-size="11" fill="#ee1616" text-anchor="middle" font-weight="normal"  stroke="#ee1616" stroke-width="0.35">92</text>
<line x1="1140.25" y1="761.80" x2="1140.25" y2="787.00" stroke="#f28c8c" stroke-width="0.8" />
<line x1="1136.55" y1="781.20" x2="1143.95" y2="773.80" stroke="#e42222" stroke-width="1.0" />
<line x1="566.50" y1="805.00" x2="1156.50" y2="805.00" stroke="#f28c8c" stroke-width="0.8" />
<line x1="572.40" y1="706.00" x2="572.40" y2="814.00" stroke="#f28c8c" stroke-width="0.8" />
<line x1="568.70" y1="808.70" x2="576.10" y2="801.30" stroke="#e42222" stroke-width="1.0" />
<line x1="1150.30" y1="706.00" x2="1150.30" y2="814.00" stroke="#f28c8c" stroke-width="0.8" />
<line x1="1146.60" y1="808.70" x2="1154.00" y2="801.30" stroke="#e42222" stroke-width="1.0" />
<text x="861.50" y="798.60" font-size="11" fill="#ee1616" text-anchor="middle" font-weight="normal"  stroke="#ee1616" stroke-width="0.35">381</text>
<g id="side">
<rect x="390.50" y="514.50" width="13.75" height="241.75" fill="#a4bbd1" stroke="#5b6977" stroke-width="0.5" />
<rect x="404.25" y="514.50" width="3.15" height="8.00" fill="#a4bbd1" stroke="#5b6977" stroke-width="0.5" />
<rect x="404.25" y="537.50" width="3.15" height="8.75" fill="#a4bbd1" stroke="#5b6977" stroke-width="0.5" />
<rect x="404.25" y="561.25" width="3.15" height="8.25" fill="#a4bbd1" stroke="#5b6977" stroke-width="0.5" />
<rect x="404.25" y="585.00" width="3.15" height="8.25" fill="#a4bbd1" stroke="#5b6977" stroke-width="0.5" />
<rect x="404.25" y="608.25" width="3.15" height="8.50" fill="#a4bbd1" stroke="#5b6977" stroke-width="0.5" />
<rect x="468.00" y="701.25" width="13.75" height="55.00" fill="#a4bbd1" stroke="#5b6977" stroke-width="0.5" />
<rect x="388.00" y="631.75" width="96.25" height="69.50" fill="#a4bbd1" stroke="#5b6977" stroke-width="0.5" />
<line x1="388.00" y1="649.25" x2="484.25" y2="649.25" stroke="#4c5a68" stroke-width="0.7" />
<line x1="388.00" y1="666.50" x2="484.25" y2="666.50" stroke="#4c5a68" stroke-width="0.7" />
<line x1="388.00" y1="684.00" x2="484.25" y2="684.00" stroke="#4c5a68" stroke-width="0.7" />
</g>
<line x1="323.25" y1="511.00" x2="323.25" y2="762.00" stroke="#f28c8c" stroke-width="0.8" />
<line x1="358.25" y1="511.00" x2="358.25" y2="762.00" stroke="#f28c8c" stroke-width="0.8" />
<line x1="313.75" y1="514.50" x2="385.75" y2="514.50" stroke="#f28c8c" stroke-width="0.8" />
<line x1="348.75" y1="631.75" x2="385.75" y2="631.75" stroke="#f28c8c" stroke-width="0.8" />
<line x1="348.75" y1="701.25" x2="382.50" y2="701.25" stroke="#f28c8c" stroke-width="0.8" />
<line x1="313.75" y1="756.25" x2="385.75" y2="756.25" stroke="#f28c8c" stroke-width="0.8" />
<line x1="319.55" y1="510.80" x2="326.95" y2="518.20" stroke="#e42222" stroke-width="1.0" />
<line x1="319.55" y1="752.55" x2="326.95" y2="759.95" stroke="#e42222" stroke-width="1.0" />
<line x1="354.55" y1="510.80" x2="361.95" y2="518.20" stroke="#e42222" stroke-width="1.0" />
<line x1="354.55" y1="628.05" x2="361.95" y2="635.45" stroke="#e42222" stroke-width="1.0" />
<line x1="354.55" y1="697.55" x2="361.95" y2="704.95" stroke="#e42222" stroke-width="1.0" />
<line x1="354.55" y1="752.55" x2="361.95" y2="759.95" stroke="#e42222" stroke-width="1.0" />
<text x="351.50" y="573.20" font-size="11" fill="#ee1616" text-anchor="middle" font-weight="normal" transform="rotate(-90 351.50 573.20)"  stroke="#ee1616" stroke-width="0.35">78</text>
<text x="351.50" y="667.00" font-size="11" fill="#ee1616" text-anchor="middle" font-weight="normal" transform="rotate(-90 351.50 667.00)"  stroke="#ee1616" stroke-width="0.35">46</text>
<text x="351.50" y="729.00" font-size="11" fill="#ee1616" text-anchor="middle" font-weight="normal" transform="rotate(-90 351.50 729.00)"  stroke="#ee1616" stroke-width="0.35">37</text>
<text x="317.00" y="635.50" font-size="11" fill="#ee1616" text-anchor="middle" font-weight="normal" transform="rotate(-90 317.00 635.50)"  stroke="#ee1616" stroke-width="0.35">160</text>
<line x1="523.75" y1="625.50" x2="523.75" y2="762.00" stroke="#f28c8c" stroke-width="0.8" />
<line x1="488.75" y1="631.75" x2="533.75" y2="631.75" stroke="#f28c8c" stroke-width="0.8" />
<line x1="486.25" y1="756.25" x2="533.75" y2="756.25" stroke="#f28c8c" stroke-width="0.8" />
<line x1="520.05" y1="628.05" x2="527.45" y2="635.45" stroke="#e42222" stroke-width="1.0" />
<line x1="520.05" y1="752.55" x2="527.45" y2="759.95" stroke="#e42222" stroke-width="1.0" />
<text x="516.50" y="694.30" font-size="11" fill="#ee1616" text-anchor="middle" font-weight="normal" transform="rotate(-90 516.50 694.30)"  stroke="#ee1616" stroke-width="0.35">82</text>
<line x1="386.25" y1="788.75" x2="485.50" y2="788.75" stroke="#f28c8c" stroke-width="0.8" />
<line x1="390.50" y1="761.80" x2="390.50" y2="798.00" stroke="#f28c8c" stroke-width="0.8" />
<line x1="386.80" y1="792.45" x2="394.20" y2="785.05" stroke="#e42222" stroke-width="1.0" />
<line x1="481.75" y1="761.80" x2="481.75" y2="798.00" stroke="#f28c8c" stroke-width="0.8" />
<line x1="478.05" y1="792.45" x2="485.45" y2="785.05" stroke="#e42222" stroke-width="1.0" />
<text x="435.50" y="782.00" font-size="11" fill="#ee1616" text-anchor="middle" font-weight="normal"  stroke="#ee1616" stroke-width="0.35">60</text>
<g id="detail">
<rect x="319.5" y="355.5" width="169.75" height="139.5" fill="#fff" stroke="#9090ee" stroke-width="1.0"/>
<line x1="435.60" y1="355.50" x2="435.60" y2="396.30" stroke="#c9c9c9" stroke-width="1.0" />
<line x1="435.00" y1="450.75" x2="489.00" y2="450.75" stroke="#d2d2d2" stroke-width="1.2" />
<line x1="435.00" y1="465.75" x2="489.00" y2="465.75" stroke="#c0c0c0" stroke-width="1.7" />
<line x1="380.50" y1="355.50" x2="380.50" y2="396.00" stroke="#bbb" stroke-width="0.4" />
<rect x="437.5" y="355.8" width="51.5" height="40.4" fill="#f5d5a0"/>
<polyline points="438,355.8 438,396.25 489.2,396.25" fill="none" stroke="#0a0a0a" stroke-width="1.9"/>
</g>
<path d="M367.5,355.5 L380.5,355.5 L380.5,396.25 L367.5,396.25 Z" fill="#ede5c8"/>
<path d="M367.5,396.25 L380.5,396.25 L380.5,464.2 Q380.5,466.25 378.5,466.25 L369.5,466.25 Q367.5,466.25 367.5,464.2 Z" fill="#ede5c8"/>
<rect x="380.5" y="396.25" width="54.5" height="54.5" fill="#ede5c8"/>
<clipPath id="cb"><rect x="367.5" y="355.5" width="13" height="110.7"/></clipPath>
<g clip-path="url(#cb)" stroke="#6f6955" stroke-width="0.3" fill="none">
<path d="M367.5,317.6 C371,321.6 376,329.6 380.5,337.6"/>
<path d="M367.5,325.2 C371,329.2 376,337.2 380.5,345.2"/>
<path d="M367.5,332.8 C371,336.8 376,344.8 380.5,352.8"/>
<path d="M367.5,340.4 C371,344.4 376,352.4 380.5,360.4"/>
<path d="M367.5,348.0 C371,352.0 376,360.0 380.5,368.0"/>
<path d="M367.5,355.6 C371,359.6 376,367.6 380.5,375.6"/>
<path d="M367.5,363.2 C371,367.2 376,375.2 380.5,383.2"/>
<path d="M367.5,370.8 C371,374.8 376,382.8 380.5,390.8"/>
<path d="M367.5,378.4 C371,382.4 376,390.4 380.5,398.4"/>
<path d="M367.5,386.0 C371,390.0 376,398.0 380.5,406.0"/>
<path d="M367.5,393.6 C371,397.6 376,405.6 380.5,413.6"/>
<path d="M367.5,401.2 C371,405.2 376,413.2 380.5,421.2"/>
<path d="M367.5,408.8 C371,412.8 376,420.8 380.5,428.8"/>
<path d="M367.5,416.4 C371,420.4 376,428.4 380.5,436.4"/>
<path d="M367.5,424.0 C371,428.0 376,436.0 380.5,444.0"/>
<path d="M367.5,431.6 C371,435.6 376,443.6 380.5,451.6"/>
<path d="M367.5,439.2 C371,443.2 376,451.2 380.5,459.2"/>
<path d="M367.5,446.8 C371,450.8 376,458.8 380.5,466.8"/>
<path d="M367.5,454.4 C371,458.4 376,466.4 380.5,474.4"/>
<path d="M367.5,462.0 C371,466.0 376,474.0 380.5,482.0"/>
<path d="M367.5,469.6 C371,473.6 376,481.6 380.5,489.6"/>
<path d="M367.5,477.2 C371,481.2 376,489.2 380.5,497.2"/>
<path d="M367.5,484.8 C371,488.8 376,496.8 380.5,504.8"/>
<path d="M367.5,492.4 C371,496.4 376,504.4 380.5,512.4"/>
</g>
<clipPath id="cm"><rect x="380.5" y="396.25" width="54.5" height="54.5"/></clipPath>
<g clip-path="url(#cm)" stroke="#6f6955" stroke-width="0.3" fill="none">
<path d="M385,406.7 Q394,408 401,422 Q391,419 385,406.7 Z"/>
<path d="M381.7,403 Q397,402 408.3,431.3 Q392,426 381.7,408"/>
<path d="M380.5,399.5 Q400,396.5 414,438 Q417,445 420,450.8"/>
<path d="M380.5,413 Q394,428 409,436 Q418,442 424,450.8"/>
<path d="M399.0,396 Q405.0,412 425.0,450.8"/>
<path d="M406.2,396 Q412.2,412 432.2,450.8"/>
<path d="M413.4,396 Q419.4,412 439.4,450.8"/>
<path d="M420.6,396 Q426.6,412 446.6,450.8"/>
<path d="M427.8,396 Q433.8,412 453.8,450.8"/>
<path d="M435.0,396 Q441.0,412 461.0,450.8"/>
<path d="M380.5,421.0 Q394,431.0 416,455.0"/>
<path d="M380.5,429.0 Q394,439.0 416,463.0"/>
<path d="M380.5,437.0 Q394,447.0 416,471.0"/>
<path d="M380.5,445.0 Q394,455.0 416,479.0"/>
</g>
<path d="M367.5,355.5 L367.5,464.2 Q367.5,466.25 369.5,466.25 L378.5,466.25 Q380.5,466.25 380.5,464.2 L380.5,355.5" fill="none" stroke="#0a0a0a" stroke-width="1.7"/>
<line x1="367.5" y1="396.25" x2="380.5" y2="396.25" stroke="#0a0a0a" stroke-width="1.6"/>
<rect x="380.5" y="396.25" width="54.5" height="54.5" fill="none" stroke="#0a0a0a" stroke-width="1.7"/>
<line x1="345.75" y1="391.00" x2="345.75" y2="471.50" stroke="#f28c8c" stroke-width="0.8" />
<line x1="336.25" y1="396.25" x2="367.50" y2="396.25" stroke="#f28c8c" stroke-width="0.8" />
<line x1="336.25" y1="466.25" x2="367.50" y2="466.25" stroke="#f28c8c" stroke-width="0.8" />
<line x1="342.05" y1="392.55" x2="349.45" y2="399.95" stroke="#e42222" stroke-width="1.0" />
<line x1="342.05" y1="462.55" x2="349.45" y2="469.95" stroke="#e42222" stroke-width="1.0" />
<text x="339.30" y="431.00" font-size="11" fill="#ee1616" text-anchor="middle" font-weight="normal" transform="rotate(-90 339.30 431.00)"  stroke="#ee1616" stroke-width="0.35">12</text>
<line x1="457.50" y1="391.00" x2="457.50" y2="456.00" stroke="#f28c8c" stroke-width="0.8" />
<line x1="435.00" y1="450.75" x2="467.50" y2="450.75" stroke="#f28c8c" stroke-width="0.8" />
<line x1="453.80" y1="392.55" x2="461.20" y2="399.95" stroke="#e42222" stroke-width="1.0" />
<line x1="453.80" y1="447.05" x2="461.20" y2="454.45" stroke="#e42222" stroke-width="1.0" />
<text x="450.80" y="423.00" font-size="11" fill="#ee1616" text-anchor="middle" font-weight="normal" transform="rotate(-90 450.80 423.00)"  stroke="#ee1616" stroke-width="0.35">9</text>
<line x1="363.75" y1="484.25" x2="438.75" y2="484.25" stroke="#f28c8c" stroke-width="0.8" />
<line x1="367.50" y1="466.50" x2="367.50" y2="495.00" stroke="#f28c8c" stroke-width="0.8" />
<line x1="380.50" y1="466.50" x2="380.50" y2="495.00" stroke="#f28c8c" stroke-width="0.8" />
<line x1="434.40" y1="451.00" x2="434.40" y2="495.00" stroke="#f28c8c" stroke-width="0.8" />
<line x1="363.80" y1="487.95" x2="371.20" y2="480.55" stroke="#e42222" stroke-width="1.0" />
<line x1="376.80" y1="487.95" x2="384.20" y2="480.55" stroke="#e42222" stroke-width="1.0" />
<line x1="430.70" y1="487.95" x2="438.10" y2="480.55" stroke="#e42222" stroke-width="1.0" />
<text x="373.30" y="477.80" font-size="11" fill="#ee1616" text-anchor="middle" font-weight="normal"  stroke="#ee1616" stroke-width="0.35">2</text>
<text x="407.00" y="477.80" font-size="11" fill="#ee1616" text-anchor="middle" font-weight="normal"  stroke="#ee1616" stroke-width="0.35">9</text>
<line x1="0.00" y1="818.30" x2="1200.00" y2="818.30" stroke="#d6d6d6" stroke-width="1.0" />
<line x1="0.00" y1="876.20" x2="1200.00" y2="876.20" stroke="#c4c4c4" stroke-width="1.1" />
<line x1="0.00" y1="890.70" x2="1200.00" y2="890.70" stroke="#e2e2e2" stroke-width="0.8" />
<line x1="154.30" y1="818.30" x2="154.30" y2="876.20" stroke="#d2d2d2" stroke-width="1.0" />
<line x1="321.70" y1="818.30" x2="321.70" y2="876.20" stroke="#d2d2d2" stroke-width="1.0" />
<line x1="489.30" y1="818.30" x2="489.30" y2="876.20" stroke="#d2d2d2" stroke-width="1.0" />
<line x1="656.70" y1="818.30" x2="656.70" y2="876.20" stroke="#d2d2d2" stroke-width="1.0" />
<line x1="824.30" y1="818.30" x2="824.30" y2="876.20" stroke="#d2d2d2" stroke-width="1.0" />
<line x1="991.70" y1="818.30" x2="991.70" y2="876.20" stroke="#d2d2d2" stroke-width="1.0" />
<line x1="1065.70" y1="818.30" x2="1065.70" y2="876.20" stroke="#d2d2d2" stroke-width="1.0" />
<line x1="1139.00" y1="818.30" x2="1139.00" y2="876.20" stroke="#d2d2d2" stroke-width="1.0" />
<text x="15.9" y="846.6" font-size="18.2" fill="#f2620f" textLength="110" lengthAdjust="spacing">citerastudio</text>
<text x="24.00" y="864.00" font-size="10" fill="#868686" text-anchor="start" font-weight="normal" textLength="92.70" lengthAdjust="spacingAndGlyphs" >www.citerastudio.com</text>
<text x="162.00" y="835.70" font-size="11" fill="#707070" text-anchor="start" font-weight="bold" textLength="60.70" lengthAdjust="spacingAndGlyphs" >Progettista</text>
<text x="162.00" y="851.80" font-size="10.3" fill="#868686" text-anchor="start" font-weight="normal" textLength="74.00" lengthAdjust="spacingAndGlyphs" >Arch. Vito Depalo</text>
<text x="162.00" y="863.80" font-size="10.3" fill="#868686" text-anchor="start" font-weight="normal" textLength="95.30" lengthAdjust="spacingAndGlyphs" >Arch. Riccardina Burdo</text>
<text x="329.30" y="835.70" font-size="11" fill="#707070" text-anchor="start" font-weight="bold" textLength="73.50" lengthAdjust="spacingAndGlyphs" >Committente</text>
<text x="329.30" y="851.80" font-size="10.3" fill="#868686" text-anchor="start" font-weight="normal" textLength="88.30" lengthAdjust="spacingAndGlyphs" >Sig. Alessandro Porta</text>
<text x="496.70" y="835.70" font-size="11" fill="#707070" text-anchor="start" font-weight="bold" textLength="55.30" lengthAdjust="spacingAndGlyphs" >Progetto -</text>
<text x="561.70" y="835.70" font-size="11" fill="#707070" text-anchor="start" font-weight="bold" textLength="51.00" lengthAdjust="spacingAndGlyphs" >Esecutivo</text>
<text x="496.70" y="851.80" font-size="10.3" fill="#868686" text-anchor="start" font-weight="normal" textLength="134.70" lengthAdjust="spacingAndGlyphs" >Sistemazioni esterne con piscina</text>
<text x="664.30" y="835.70" font-size="11" fill="#707070" text-anchor="start" font-weight="bold" textLength="42.70" lengthAdjust="spacingAndGlyphs" >Località</text>
<text x="664.30" y="851.80" font-size="10.3" fill="#868686" text-anchor="start" font-weight="normal" textLength="69.00" lengthAdjust="spacingAndGlyphs" >Via Frasso 122/N</text>
<text x="664.30" y="863.80" font-size="10.3" fill="#868686" text-anchor="start" font-weight="normal" textLength="112.30" lengthAdjust="spacingAndGlyphs" >Querceta - Seravezza (LU)</text>
<text x="746.00" y="851.80" font-size="10.3" fill="#868686" text-anchor="start" font-weight="normal" textLength="26.70" lengthAdjust="spacingAndGlyphs" >55047</text>
<text x="831.70" y="835.70" font-size="11" fill="#707070" text-anchor="start" font-weight="bold" textLength="69.70" lengthAdjust="spacingAndGlyphs" >Titolo tavola</text>
<text x="831.70" y="851.80" font-size="10.3" fill="#868686" text-anchor="start" font-weight="normal" textLength="60.70" lengthAdjust="spacingAndGlyphs" >Orto verticale</text>
<text x="999.00" y="835.70" font-size="11" fill="#707070" text-anchor="start" font-weight="bold" textLength="27.30" lengthAdjust="spacingAndGlyphs" >Scala</text>
<text x="1000.60" y="851.80" font-size="10.3" fill="#868686" text-anchor="start" font-weight="normal" textLength="17.60" lengthAdjust="spacingAndGlyphs" >1:20</text>
<text x="1037.70" y="851.80" font-size="10.3" fill="#868686" text-anchor="start" font-weight="normal" textLength="21.70" lengthAdjust="spacingAndGlyphs" >@A3</text>
<text x="1072.70" y="835.70" font-size="11" fill="#707070" text-anchor="start" font-weight="bold" textLength="25.70" lengthAdjust="spacingAndGlyphs" >Data</text>
<text x="1074.00" y="851.80" font-size="10.3" fill="#868686" text-anchor="start" font-weight="normal" textLength="46.70" lengthAdjust="spacingAndGlyphs" >16/04/2021</text>
<text x="1157.70" y="835.70" font-size="11" fill="#707070" text-anchor="start" font-weight="bold" textLength="35.60" lengthAdjust="spacingAndGlyphs" >Tavola</text>
<text x="1160.50" y="866.70" font-size="29.5" fill="#757575" text-anchor="start" font-weight="normal" textLength="30.00" lengthAdjust="spacingAndGlyphs" stroke="#fff" stroke-width="0.7">22</text>
</svg>
</body></html>
